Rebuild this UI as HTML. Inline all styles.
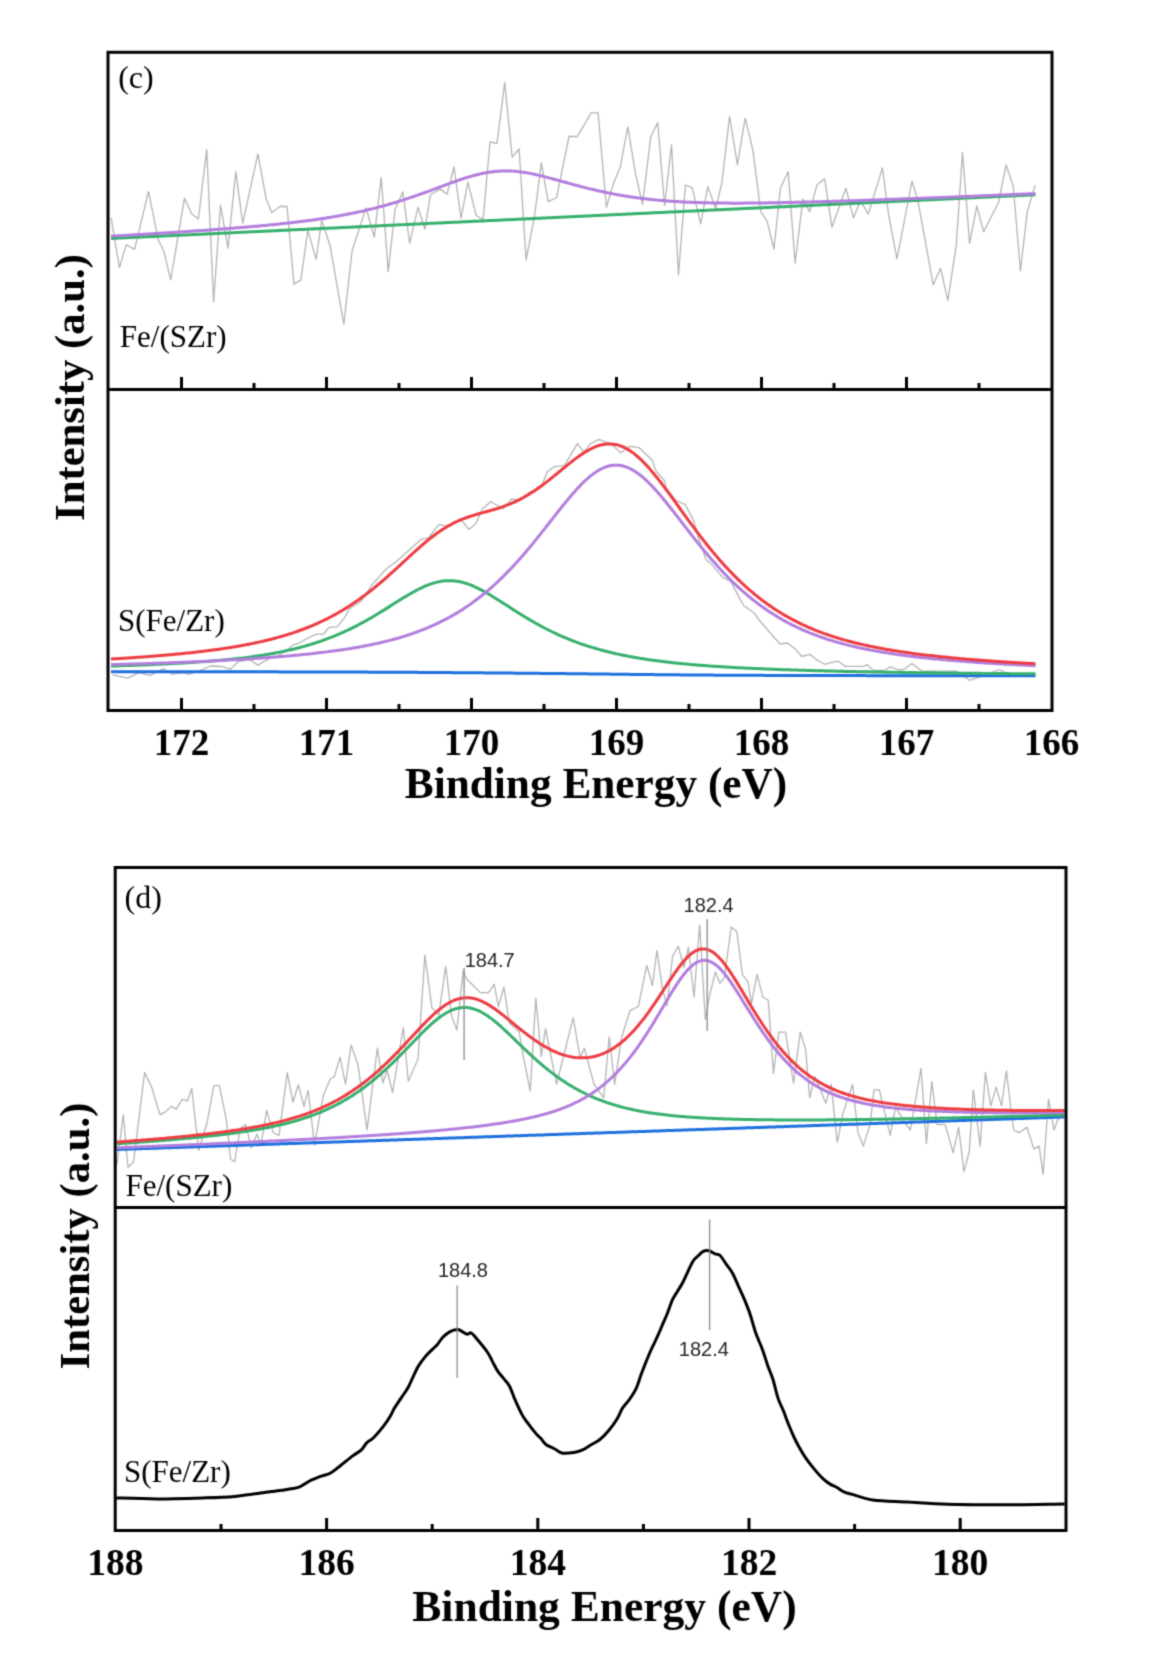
<!DOCTYPE html>
<html><head><meta charset="utf-8"><style>
html,body{margin:0;padding:0;background:#fff;}
svg{display:block;}
</style></head><body>
<svg width="1155" height="1655" viewBox="0 0 1155 1655">
<defs><filter id="soft" x="0" y="0" width="1155" height="1655" filterUnits="userSpaceOnUse" primitiveUnits="userSpaceOnUse" color-interpolation-filters="sRGB"><feConvolveMatrix order="3" kernelMatrix="1 4 1 4 16 4 1 4 1" divisor="36" edgeMode="duplicate"/></filter></defs>
<g filter="url(#soft)">
<rect width="1155" height="1655" fill="#fff"/>
<polyline points="111.1,217.6 119.4,267.5 126.3,244.7 134.6,249.4 148.5,191.3 158.2,239.8 163.7,250.8 170.7,279.9 184.5,198.2 191.4,213.4 198.4,219.0 206.7,149.7 213.6,302.0 220.5,205.1 228.0,248.1 235.8,171.9 242.7,223.1 257.9,153.9 266.3,199.6 271.8,212.6 280.1,206.5 287.0,206.5 294.0,284.1 300.9,279.9 307.8,230.1 316.1,259.1 321.7,220.4 330.0,245.3 343.8,324.2 352.1,250.8 366.0,207.9 374.3,237.0 381.2,177.4 388.2,271.6 395.1,209.3 402.8,191.9 409.7,243.2 418.0,207.2 424.9,229.3 430.5,194.7 440.2,189.1 447.1,194.1 454.0,167.0 461.0,218.2 467.9,182.2 476.2,215.5 483.1,219.6 490.0,142.0 497.0,143.4 504.7,82.5 512.2,157.3 519.1,149.0 526.1,259.8 534.4,216.9 541.3,162.8 548.2,201.6 556.6,197.5 569.0,136.5 577.3,136.5 591.2,112.9 598.1,112.9 606.4,207.2 613.4,183.6 620.3,167.0 627.8,126.8 635.5,173.9 642.5,204.4 650.8,136.5 657.7,122.6 664.6,205.8 671.5,144.8 678.5,275.0 685.4,185.0 692.3,187.8 700.6,223.8 707.8,186.6 715.6,208.5 721.8,183.5 729.6,116.5 737.4,164.8 745.2,118.1 753.0,150.8 760.8,211.6 767.0,220.9 773.9,249.0 780.4,188.2 788.2,171.7 795.1,263.0 802.9,199.1 809.7,211.6 816.9,185.1 824.7,178.8 831.9,227.2 845.9,188.2 853.4,217.8 860.5,200.7 868.3,214.1 882.4,167.9 888.6,214.7 897.0,259.0 912.0,181.0 918.2,202.2 933.2,284.8 940.6,268.3 947.8,300.4 956.2,245.9 962.5,152.3 969.6,243.4 976.8,206.0 983.7,231.8 998.6,202.2 1006.1,164.8 1013.3,186.6 1020.4,270.8 1027.3,211.6 1035.1,185.1" fill="none" stroke="#b4b4b4" stroke-width="1.3" stroke-linejoin="round"/>
<path d="M111.0,238.47 L113.0,238.38 L115.0,238.29 L117.0,238.19 L119.0,238.10 L121.0,238.00 L123.0,237.91 L125.0,237.81 L127.0,237.72 L129.0,237.62 L131.0,237.53 L133.0,237.43 L135.0,237.34 L137.0,237.25 L139.0,237.15 L141.0,237.06 L143.0,236.96 L145.0,236.87 L147.0,236.77 L149.0,236.68 L151.0,236.58 L153.0,236.49 L155.0,236.40 L157.0,236.30 L159.0,236.21 L161.0,236.11 L163.0,236.02 L165.0,235.92 L167.0,235.83 L169.0,235.73 L171.0,235.64 L173.0,235.54 L175.0,235.45 L177.0,235.36 L179.0,235.26 L181.0,235.17 L183.0,235.07 L185.0,234.98 L187.0,234.88 L189.0,234.79 L191.0,234.69 L193.0,234.60 L195.0,234.51 L197.0,234.41 L199.0,234.32 L201.0,234.22 L203.0,234.13 L205.0,234.03 L207.0,233.94 L209.0,233.84 L211.0,233.75 L213.0,233.65 L215.0,233.56 L217.0,233.47 L219.0,233.37 L221.0,233.28 L223.0,233.18 L225.0,233.09 L227.0,232.99 L229.0,232.90 L231.0,232.80 L233.0,232.71 L235.0,232.62 L237.0,232.52 L239.0,232.43 L241.0,232.33 L243.0,232.24 L245.0,232.14 L247.0,232.05 L249.0,231.95 L251.0,231.86 L253.0,231.76 L255.0,231.67 L257.0,231.58 L259.0,231.48 L261.0,231.39 L263.0,231.29 L265.0,231.20 L267.0,231.10 L269.0,231.01 L271.0,230.91 L273.0,230.82 L275.0,230.73 L277.0,230.63 L279.0,230.54 L281.0,230.44 L283.0,230.35 L285.0,230.25 L287.0,230.16 L289.0,230.06 L291.0,229.97 L293.0,229.87 L295.0,229.78 L297.0,229.69 L299.0,229.59 L301.0,229.50 L303.0,229.40 L305.0,229.31 L307.0,229.21 L309.0,229.12 L311.0,229.02 L313.0,228.93 L315.0,228.84 L317.0,228.74 L319.0,228.65 L321.0,228.55 L323.0,228.46 L325.0,228.36 L327.0,228.27 L329.0,228.17 L331.0,228.08 L333.0,227.98 L335.0,227.89 L337.0,227.80 L339.0,227.70 L341.0,227.61 L343.0,227.51 L345.0,227.42 L347.0,227.32 L349.0,227.23 L351.0,227.13 L353.0,227.04 L355.0,226.95 L357.0,226.85 L359.0,226.76 L361.0,226.66 L363.0,226.57 L365.0,226.47 L367.0,226.38 L369.0,226.28 L371.0,226.19 L373.0,226.09 L375.0,226.00 L377.0,225.91 L379.0,225.81 L381.0,225.72 L383.0,225.62 L385.0,225.53 L387.0,225.43 L389.0,225.34 L391.0,225.24 L393.0,225.15 L395.0,225.06 L397.0,224.96 L399.0,224.87 L401.0,224.77 L403.0,224.68 L405.0,224.58 L407.0,224.49 L409.0,224.39 L411.0,224.30 L413.0,224.20 L415.0,224.11 L417.0,224.02 L419.0,223.92 L421.0,223.83 L423.0,223.73 L425.0,223.64 L427.0,223.54 L429.0,223.45 L431.0,223.35 L433.0,223.26 L435.0,223.17 L437.0,223.07 L439.0,222.98 L441.0,222.88 L443.0,222.79 L445.0,222.69 L447.0,222.60 L449.0,222.50 L451.0,222.41 L453.0,222.31 L455.0,222.22 L457.0,222.13 L459.0,222.03 L461.0,221.94 L463.0,221.84 L465.0,221.75 L467.0,221.65 L469.0,221.56 L471.0,221.46 L473.0,221.37 L475.0,221.28 L477.0,221.18 L479.0,221.09 L481.0,220.99 L483.0,220.90 L485.0,220.80 L487.0,220.71 L489.0,220.61 L491.0,220.52 L493.0,220.42 L495.0,220.33 L497.0,220.24 L499.0,220.14 L501.0,220.05 L503.0,219.95 L505.0,219.86 L507.0,219.76 L509.0,219.67 L511.0,219.57 L513.0,219.48 L515.0,219.39 L517.0,219.29 L519.0,219.20 L521.0,219.10 L523.0,219.01 L525.0,218.91 L527.0,218.82 L529.0,218.72 L531.0,218.63 L533.0,218.53 L535.0,218.44 L537.0,218.35 L539.0,218.25 L541.0,218.16 L543.0,218.06 L545.0,217.97 L547.0,217.87 L549.0,217.78 L551.0,217.68 L553.0,217.59 L555.0,217.50 L557.0,217.40 L559.0,217.31 L561.0,217.21 L563.0,217.12 L565.0,217.02 L567.0,216.93 L569.0,216.83 L571.0,216.74 L573.0,216.64 L575.0,216.55 L577.0,216.46 L579.0,216.36 L581.0,216.27 L583.0,216.17 L585.0,216.08 L587.0,215.98 L589.0,215.89 L591.0,215.79 L593.0,215.70 L595.0,215.61 L597.0,215.51 L599.0,215.42 L601.0,215.32 L603.0,215.23 L605.0,215.13 L607.0,215.04 L609.0,214.94 L611.0,214.85 L613.0,214.75 L615.0,214.66 L617.0,214.57 L619.0,214.47 L621.0,214.38 L623.0,214.28 L625.0,214.19 L627.0,214.09 L629.0,214.00 L631.0,213.90 L633.0,213.81 L635.0,213.72 L637.0,213.62 L639.0,213.53 L641.0,213.43 L643.0,213.34 L645.0,213.24 L647.0,213.15 L649.0,213.05 L651.0,212.96 L653.0,212.86 L655.0,212.77 L657.0,212.68 L659.0,212.58 L661.0,212.49 L663.0,212.39 L665.0,212.30 L667.0,212.20 L669.0,212.11 L671.0,212.01 L673.0,211.92 L675.0,211.83 L677.0,211.73 L679.0,211.64 L681.0,211.54 L683.0,211.45 L685.0,211.35 L687.0,211.26 L689.0,211.16 L691.0,211.07 L693.0,210.97 L695.0,210.88 L697.0,210.79 L699.0,210.69 L701.0,210.60 L703.0,210.50 L705.0,210.41 L707.0,210.31 L709.0,210.22 L711.0,210.12 L713.0,210.03 L715.0,209.94 L717.0,209.84 L719.0,209.75 L721.0,209.65 L723.0,209.56 L725.0,209.46 L727.0,209.37 L729.0,209.27 L731.0,209.18 L733.0,209.08 L735.0,208.99 L737.0,208.90 L739.0,208.80 L741.0,208.71 L743.0,208.61 L745.0,208.52 L747.0,208.42 L749.0,208.33 L751.0,208.23 L753.0,208.14 L755.0,208.05 L757.0,207.95 L759.0,207.86 L761.0,207.76 L763.0,207.67 L765.0,207.57 L767.0,207.48 L769.0,207.38 L771.0,207.29 L773.0,207.19 L775.0,207.10 L777.0,207.01 L779.0,206.91 L781.0,206.82 L783.0,206.72 L785.0,206.63 L787.0,206.53 L789.0,206.44 L791.0,206.34 L793.0,206.25 L795.0,206.16 L797.0,206.06 L799.0,205.97 L801.0,205.87 L803.0,205.78 L805.0,205.68 L807.0,205.59 L809.0,205.49 L811.0,205.40 L813.0,205.30 L815.0,205.21 L817.0,205.12 L819.0,205.02 L821.0,204.93 L823.0,204.83 L825.0,204.74 L827.0,204.64 L829.0,204.55 L831.0,204.45 L833.0,204.36 L835.0,204.27 L837.0,204.17 L839.0,204.08 L841.0,203.98 L843.0,203.89 L845.0,203.79 L847.0,203.70 L849.0,203.60 L851.0,203.51 L853.0,203.41 L855.0,203.32 L857.0,203.23 L859.0,203.13 L861.0,203.04 L863.0,202.94 L865.0,202.85 L867.0,202.75 L869.0,202.66 L871.0,202.56 L873.0,202.47 L875.0,202.38 L877.0,202.28 L879.0,202.19 L881.0,202.09 L883.0,202.00 L885.0,201.90 L887.0,201.81 L889.0,201.71 L891.0,201.62 L893.0,201.52 L895.0,201.43 L897.0,201.34 L899.0,201.24 L901.0,201.15 L903.0,201.05 L905.0,200.96 L907.0,200.86 L909.0,200.77 L911.0,200.67 L913.0,200.58 L915.0,200.49 L917.0,200.39 L919.0,200.30 L921.0,200.20 L923.0,200.11 L925.0,200.01 L927.0,199.92 L929.0,199.82 L931.0,199.73 L933.0,199.63 L935.0,199.54 L937.0,199.45 L939.0,199.35 L941.0,199.26 L943.0,199.16 L945.0,199.07 L947.0,198.97 L949.0,198.88 L951.0,198.78 L953.0,198.69 L955.0,198.60 L957.0,198.50 L959.0,198.41 L961.0,198.31 L963.0,198.22 L965.0,198.12 L967.0,198.03 L969.0,197.93 L971.0,197.84 L973.0,197.74 L975.0,197.65 L977.0,197.56 L979.0,197.46 L981.0,197.37 L983.0,197.27 L985.0,197.18 L987.0,197.08 L989.0,196.99 L991.0,196.89 L993.0,196.80 L995.0,196.71 L997.0,196.61 L999.0,196.52 L1001.0,196.42 L1003.0,196.33 L1005.0,196.23 L1007.0,196.14 L1009.0,196.04 L1011.0,195.95 L1013.0,195.85 L1015.0,195.76 L1017.0,195.67 L1019.0,195.57 L1021.0,195.48 L1023.0,195.38 L1025.0,195.29 L1027.0,195.19 L1029.0,195.10 L1031.0,195.00 L1033.0,194.91 L1035.0,194.82 L1035.5,194.79" fill="none" stroke="#37af6e" stroke-width="3.0" stroke-linejoin="round" stroke-linecap="butt"/>
<path d="M111.0,236.22 L113.0,236.11 L115.0,235.99 L117.0,235.87 L119.0,235.76 L121.0,235.64 L123.0,235.52 L125.0,235.40 L127.0,235.28 L129.0,235.16 L131.0,235.04 L133.0,234.92 L135.0,234.80 L137.0,234.68 L139.0,234.56 L141.0,234.44 L143.0,234.32 L145.0,234.20 L147.0,234.07 L149.0,233.95 L151.0,233.83 L153.0,233.70 L155.0,233.58 L157.0,233.45 L159.0,233.33 L161.0,233.20 L163.0,233.08 L165.0,232.95 L167.0,232.82 L169.0,232.69 L171.0,232.56 L173.0,232.43 L175.0,232.30 L177.0,232.17 L179.0,232.04 L181.0,231.91 L183.0,231.78 L185.0,231.64 L187.0,231.51 L189.0,231.37 L191.0,231.24 L193.0,231.10 L195.0,230.97 L197.0,230.83 L199.0,230.69 L201.0,230.55 L203.0,230.41 L205.0,230.27 L207.0,230.13 L209.0,229.98 L211.0,229.84 L213.0,229.69 L215.0,229.55 L217.0,229.40 L219.0,229.25 L221.0,229.10 L223.0,228.95 L225.0,228.80 L227.0,228.64 L229.0,228.49 L231.0,228.33 L233.0,228.17 L235.0,228.01 L237.0,227.85 L239.0,227.69 L241.0,227.53 L243.0,227.36 L245.0,227.20 L247.0,227.03 L249.0,226.86 L251.0,226.68 L253.0,226.51 L255.0,226.33 L257.0,226.15 L259.0,225.97 L261.0,225.79 L263.0,225.60 L265.0,225.41 L267.0,225.22 L269.0,225.03 L271.0,224.84 L273.0,224.64 L275.0,224.44 L277.0,224.23 L279.0,224.02 L281.0,223.81 L283.0,223.60 L285.0,223.38 L287.0,223.16 L289.0,222.94 L291.0,222.71 L293.0,222.48 L295.0,222.25 L297.0,222.01 L299.0,221.76 L301.0,221.52 L303.0,221.26 L305.0,221.01 L307.0,220.75 L309.0,220.48 L311.0,220.21 L313.0,219.94 L315.0,219.65 L317.0,219.37 L319.0,219.08 L321.0,218.78 L323.0,218.48 L325.0,218.17 L327.0,217.85 L329.0,217.53 L331.0,217.20 L333.0,216.87 L335.0,216.53 L337.0,216.18 L339.0,215.83 L341.0,215.46 L343.0,215.10 L345.0,214.72 L347.0,214.34 L349.0,213.94 L351.0,213.54 L353.0,213.14 L355.0,212.72 L357.0,212.30 L359.0,211.87 L361.0,211.43 L363.0,210.98 L365.0,210.52 L367.0,210.05 L369.0,209.58 L371.0,209.09 L373.0,208.60 L375.0,208.10 L377.0,207.58 L379.0,207.06 L381.0,206.53 L383.0,205.99 L385.0,205.44 L387.0,204.88 L389.0,204.31 L391.0,203.73 L393.0,203.14 L395.0,202.54 L397.0,201.94 L399.0,201.32 L401.0,200.69 L403.0,200.06 L405.0,199.41 L407.0,198.76 L409.0,198.10 L411.0,197.43 L413.0,196.75 L415.0,196.06 L417.0,195.37 L419.0,194.67 L421.0,193.96 L423.0,193.24 L425.0,192.52 L427.0,191.80 L429.0,191.07 L431.0,190.33 L433.0,189.59 L435.0,188.85 L437.0,188.11 L439.0,187.37 L441.0,186.62 L443.0,185.88 L445.0,185.14 L447.0,184.41 L449.0,183.67 L451.0,182.95 L453.0,182.23 L455.0,181.52 L457.0,180.82 L459.0,180.13 L461.0,179.45 L463.0,178.79 L465.0,178.15 L467.0,177.52 L469.0,176.91 L471.0,176.33 L473.0,175.76 L475.0,175.22 L477.0,174.71 L479.0,174.22 L481.0,173.77 L483.0,173.34 L485.0,172.95 L487.0,172.58 L489.0,172.26 L491.0,171.96 L493.0,171.71 L495.0,171.49 L497.0,171.30 L499.0,171.16 L501.0,171.05 L503.0,170.98 L505.0,170.95 L507.0,170.95 L509.0,170.99 L511.0,171.07 L513.0,171.19 L515.0,171.33 L517.0,171.52 L519.0,171.73 L521.0,171.98 L523.0,172.26 L525.0,172.56 L527.0,172.89 L529.0,173.25 L531.0,173.63 L533.0,174.04 L535.0,174.46 L537.0,174.90 L539.0,175.36 L541.0,175.84 L543.0,176.33 L545.0,176.84 L547.0,177.35 L549.0,177.87 L551.0,178.41 L553.0,178.94 L555.0,179.49 L557.0,180.04 L559.0,180.59 L561.0,181.14 L563.0,181.70 L565.0,182.25 L567.0,182.80 L569.0,183.35 L571.0,183.90 L573.0,184.45 L575.0,184.99 L577.0,185.52 L579.0,186.05 L581.0,186.58 L583.0,187.09 L585.0,187.60 L587.0,188.11 L589.0,188.60 L591.0,189.09 L593.0,189.57 L595.0,190.04 L597.0,190.50 L599.0,190.95 L601.0,191.40 L603.0,191.83 L605.0,192.26 L607.0,192.67 L609.0,193.08 L611.0,193.48 L613.0,193.86 L615.0,194.24 L617.0,194.61 L619.0,194.97 L621.0,195.32 L623.0,195.66 L625.0,195.99 L627.0,196.31 L629.0,196.62 L631.0,196.92 L633.0,197.21 L635.0,197.50 L637.0,197.77 L639.0,198.04 L641.0,198.30 L643.0,198.55 L645.0,198.79 L647.0,199.02 L649.0,199.24 L651.0,199.46 L653.0,199.67 L655.0,199.87 L657.0,200.06 L659.0,200.24 L661.0,200.42 L663.0,200.59 L665.0,200.76 L667.0,200.91 L669.0,201.06 L671.0,201.21 L673.0,201.34 L675.0,201.47 L677.0,201.60 L679.0,201.72 L681.0,201.83 L683.0,201.93 L685.0,202.04 L687.0,202.13 L689.0,202.22 L691.0,202.31 L693.0,202.39 L695.0,202.46 L697.0,202.53 L699.0,202.60 L701.0,202.66 L703.0,202.72 L705.0,202.77 L707.0,202.82 L709.0,202.87 L711.0,202.91 L713.0,202.94 L715.0,202.98 L717.0,203.01 L719.0,203.03 L721.0,203.06 L723.0,203.08 L725.0,203.10 L727.0,203.11 L729.0,203.12 L731.0,203.13 L733.0,203.14 L735.0,203.14 L737.0,203.14 L739.0,203.14 L741.0,203.13 L743.0,203.13 L745.0,203.12 L747.0,203.11 L749.0,203.10 L751.0,203.08 L753.0,203.06 L755.0,203.05 L757.0,203.02 L759.0,203.00 L761.0,202.98 L763.0,202.95 L765.0,202.93 L767.0,202.90 L769.0,202.87 L771.0,202.83 L773.0,202.80 L775.0,202.77 L777.0,202.73 L779.0,202.69 L781.0,202.66 L783.0,202.62 L785.0,202.58 L787.0,202.53 L789.0,202.49 L791.0,202.45 L793.0,202.40 L795.0,202.36 L797.0,202.31 L799.0,202.26 L801.0,202.21 L803.0,202.16 L805.0,202.11 L807.0,202.06 L809.0,202.01 L811.0,201.96 L813.0,201.90 L815.0,201.85 L817.0,201.79 L819.0,201.74 L821.0,201.68 L823.0,201.62 L825.0,201.57 L827.0,201.51 L829.0,201.45 L831.0,201.39 L833.0,201.33 L835.0,201.27 L837.0,201.21 L839.0,201.14 L841.0,201.08 L843.0,201.02 L845.0,200.95 L847.0,200.89 L849.0,200.83 L851.0,200.76 L853.0,200.70 L855.0,200.63 L857.0,200.56 L859.0,200.50 L861.0,200.43 L863.0,200.36 L865.0,200.29 L867.0,200.22 L869.0,200.16 L871.0,200.09 L873.0,200.02 L875.0,199.95 L877.0,199.88 L879.0,199.81 L881.0,199.73 L883.0,199.66 L885.0,199.59 L887.0,199.52 L889.0,199.45 L891.0,199.37 L893.0,199.30 L895.0,199.23 L897.0,199.15 L899.0,199.08 L901.0,199.01 L903.0,198.93 L905.0,198.86 L907.0,198.78 L909.0,198.71 L911.0,198.63 L913.0,198.56 L915.0,198.48 L917.0,198.40 L919.0,198.33 L921.0,198.25 L923.0,198.17 L925.0,198.10 L927.0,198.02 L929.0,197.94 L931.0,197.86 L933.0,197.78 L935.0,197.71 L937.0,197.63 L939.0,197.55 L941.0,197.47 L943.0,197.39 L945.0,197.31 L947.0,197.23 L949.0,197.15 L951.0,197.07 L953.0,196.99 L955.0,196.91 L957.0,196.83 L959.0,196.75 L961.0,196.67 L963.0,196.59 L965.0,196.51 L967.0,196.43 L969.0,196.35 L971.0,196.26 L973.0,196.18 L975.0,196.10 L977.0,196.02 L979.0,195.94 L981.0,195.85 L983.0,195.77 L985.0,195.69 L987.0,195.61 L989.0,195.52 L991.0,195.44 L993.0,195.36 L995.0,195.27 L997.0,195.19 L999.0,195.11 L1001.0,195.02 L1003.0,194.94 L1005.0,194.86 L1007.0,194.77 L1009.0,194.69 L1011.0,194.60 L1013.0,194.52 L1015.0,194.43 L1017.0,194.35 L1019.0,194.26 L1021.0,194.18 L1023.0,194.10 L1025.0,194.01 L1027.0,193.92 L1029.0,193.84 L1031.0,193.75 L1033.0,193.67 L1035.0,193.58 L1035.5,193.56" fill="none" stroke="#b27ede" stroke-width="3.0" stroke-linejoin="round" stroke-linecap="butt"/>
<polyline points="112.5,674.8 127.7,678.1 138.8,672.6 149.9,675.4 163.7,668.7 172.0,674.3 183.1,672.6 188.7,674.3 199.8,670.7 210.8,666.0 221.9,666.5 230.2,669.3 238.5,661.5 249.6,659.6 257.9,665.1 269.0,658.7 280.1,654.9 288.7,648.5 293.9,644.6 299.0,643.3 306.0,639.0 316.4,634.2 323.3,634.2 329.4,627.3 337.1,626.8 344.9,617.3 349.3,608.7 357.9,603.5 362.3,600.0 371.0,586.0 385.5,569.6 396.6,561.3 421.6,539.1 428.5,537.8 438.7,524.7 449.3,526.7 460.4,518.4 468.7,529.4 475.6,523.9 482.5,508.7 490.8,501.7 503.3,508.7 511.6,499.0 519.9,500.4 529.6,492.0 540.7,487.9 547.6,471.3 554.6,466.6 564.3,465.7 577.3,443.6 583.7,451.9 590.6,443.6 598.9,439.4 610.0,443.6 621.1,452.7 629.4,446.3 639.1,447.7 652.1,460.0 656.2,471.4 664.5,480.8 666.6,489.1 676.0,500.5 685.3,504.7 693.6,520.3 698.8,539.0 706.1,559.7 710.3,562.9 722.7,577.4 731.0,581.6 735.2,589.9 743.5,605.5 753.9,612.7 759.1,620.0 780.0,644.0 787.3,643.0 795.6,649.2 801.8,656.5 810.1,654.4 816.4,659.6 824.7,664.3 830.9,662.7 838.2,661.2 845.5,666.4 863.1,666.4 867.3,664.8 873.5,670.5 884.9,670.5 890.1,666.9 900.0,670.0 903.8,669.5 912.0,663.5 921.9,671.1 943.2,671.1 956.4,671.1 969.6,680.3 982.7,676.0 999.2,669.5 1009.1,674.4 1035.4,674.4" fill="none" stroke="#b4b4b4" stroke-width="1.3" stroke-linejoin="round"/>
<path d="M111.0,671.70 L113.0,671.70 L115.0,671.70 L117.0,671.70 L119.0,671.70 L121.0,671.70 L123.0,671.70 L125.0,671.71 L127.0,671.71 L129.0,671.71 L131.0,671.71 L133.0,671.71 L135.0,671.71 L137.0,671.71 L139.0,671.72 L141.0,671.72 L143.0,671.72 L145.0,671.72 L147.0,671.72 L149.0,671.72 L151.0,671.73 L153.0,671.73 L155.0,671.73 L157.0,671.73 L159.0,671.73 L161.0,671.73 L163.0,671.74 L165.0,671.74 L167.0,671.74 L169.0,671.74 L171.0,671.74 L173.0,671.74 L175.0,671.75 L177.0,671.75 L179.0,671.75 L181.0,671.75 L183.0,671.75 L185.0,671.75 L187.0,671.76 L189.0,671.76 L191.0,671.76 L193.0,671.76 L195.0,671.76 L197.0,671.77 L199.0,671.77 L201.0,671.77 L203.0,671.77 L205.0,671.77 L207.0,671.78 L209.0,671.78 L211.0,671.78 L213.0,671.78 L215.0,671.79 L217.0,671.79 L219.0,671.79 L221.0,671.79 L223.0,671.80 L225.0,671.80 L227.0,671.80 L229.0,671.80 L231.0,671.80 L233.0,671.81 L235.0,671.81 L237.0,671.81 L239.0,671.82 L241.0,671.82 L243.0,671.82 L245.0,671.82 L247.0,671.83 L249.0,671.83 L251.0,671.83 L253.0,671.83 L255.0,671.84 L257.0,671.84 L259.0,671.84 L261.0,671.85 L263.0,671.85 L265.0,671.85 L267.0,671.86 L269.0,671.86 L271.0,671.86 L273.0,671.87 L275.0,671.87 L277.0,671.87 L279.0,671.88 L281.0,671.88 L283.0,671.88 L285.0,671.89 L287.0,671.89 L289.0,671.90 L291.0,671.90 L293.0,671.90 L295.0,671.91 L297.0,671.91 L299.0,671.92 L301.0,671.92 L303.0,671.92 L305.0,671.93 L307.0,671.93 L309.0,671.94 L311.0,671.94 L313.0,671.95 L315.0,671.95 L317.0,671.96 L319.0,671.96 L321.0,671.97 L323.0,671.97 L325.0,671.98 L327.0,671.98 L329.0,671.99 L331.0,671.99 L333.0,672.00 L335.0,672.01 L337.0,672.01 L339.0,672.02 L341.0,672.02 L343.0,672.03 L345.0,672.04 L347.0,672.04 L349.0,672.05 L351.0,672.06 L353.0,672.06 L355.0,672.07 L357.0,672.08 L359.0,672.09 L361.0,672.09 L363.0,672.10 L365.0,672.11 L367.0,672.12 L369.0,672.13 L371.0,672.13 L373.0,672.14 L375.0,672.15 L377.0,672.16 L379.0,672.17 L381.0,672.18 L383.0,672.19 L385.0,672.20 L387.0,672.21 L389.0,672.22 L391.0,672.23 L393.0,672.24 L395.0,672.25 L397.0,672.26 L399.0,672.27 L401.0,672.28 L403.0,672.29 L405.0,672.30 L407.0,672.31 L409.0,672.33 L411.0,672.34 L413.0,672.35 L415.0,672.36 L417.0,672.37 L419.0,672.39 L421.0,672.40 L423.0,672.41 L425.0,672.43 L427.0,672.44 L429.0,672.45 L431.0,672.47 L433.0,672.48 L435.0,672.49 L437.0,672.51 L439.0,672.52 L441.0,672.54 L443.0,672.55 L445.0,672.57 L447.0,672.58 L449.0,672.60 L451.0,672.61 L453.0,672.63 L455.0,672.64 L457.0,672.66 L459.0,672.67 L461.0,672.69 L463.0,672.71 L465.0,672.72 L467.0,672.74 L469.0,672.75 L471.0,672.77 L473.0,672.79 L475.0,672.80 L477.0,672.82 L479.0,672.83 L481.0,672.85 L483.0,672.87 L485.0,672.88 L487.0,672.90 L489.0,672.92 L491.0,672.93 L493.0,672.95 L495.0,672.97 L497.0,672.98 L499.0,673.00 L501.0,673.02 L503.0,673.04 L505.0,673.05 L507.0,673.07 L509.0,673.09 L511.0,673.10 L513.0,673.12 L515.0,673.14 L517.0,673.16 L519.0,673.18 L521.0,673.19 L523.0,673.21 L525.0,673.23 L527.0,673.25 L529.0,673.27 L531.0,673.28 L533.0,673.30 L535.0,673.32 L537.0,673.34 L539.0,673.36 L541.0,673.38 L543.0,673.40 L545.0,673.42 L547.0,673.44 L549.0,673.46 L551.0,673.48 L553.0,673.50 L555.0,673.52 L557.0,673.54 L559.0,673.56 L561.0,673.58 L563.0,673.60 L565.0,673.62 L567.0,673.64 L569.0,673.66 L571.0,673.69 L573.0,673.71 L575.0,673.73 L577.0,673.75 L579.0,673.77 L581.0,673.80 L583.0,673.82 L585.0,673.84 L587.0,673.87 L589.0,673.89 L591.0,673.91 L593.0,673.93 L595.0,673.96 L597.0,673.98 L599.0,674.00 L601.0,674.03 L603.0,674.05 L605.0,674.08 L607.0,674.10 L609.0,674.12 L611.0,674.15 L613.0,674.17 L615.0,674.19 L617.0,674.22 L619.0,674.24 L621.0,674.26 L623.0,674.29 L625.0,674.31 L627.0,674.33 L629.0,674.36 L631.0,674.38 L633.0,674.40 L635.0,674.43 L637.0,674.45 L639.0,674.47 L641.0,674.49 L643.0,674.52 L645.0,674.54 L647.0,674.56 L649.0,674.58 L651.0,674.60 L653.0,674.62 L655.0,674.64 L657.0,674.66 L659.0,674.68 L661.0,674.70 L663.0,674.72 L665.0,674.74 L667.0,674.76 L669.0,674.78 L671.0,674.80 L673.0,674.82 L675.0,674.83 L677.0,674.85 L679.0,674.87 L681.0,674.89 L683.0,674.90 L685.0,674.92 L687.0,674.94 L689.0,674.95 L691.0,674.97 L693.0,674.98 L695.0,675.00 L697.0,675.01 L699.0,675.03 L701.0,675.04 L703.0,675.06 L705.0,675.07 L707.0,675.08 L709.0,675.10 L711.0,675.11 L713.0,675.12 L715.0,675.14 L717.0,675.15 L719.0,675.16 L721.0,675.17 L723.0,675.18 L725.0,675.19 L727.0,675.21 L729.0,675.22 L731.0,675.23 L733.0,675.24 L735.0,675.25 L737.0,675.26 L739.0,675.27 L741.0,675.28 L743.0,675.29 L745.0,675.30 L747.0,675.31 L749.0,675.31 L751.0,675.32 L753.0,675.33 L755.0,675.34 L757.0,675.35 L759.0,675.36 L761.0,675.36 L763.0,675.37 L765.0,675.38 L767.0,675.39 L769.0,675.39 L771.0,675.40 L773.0,675.41 L775.0,675.42 L777.0,675.42 L779.0,675.43 L781.0,675.43 L783.0,675.44 L785.0,675.45 L787.0,675.45 L789.0,675.46 L791.0,675.47 L793.0,675.47 L795.0,675.48 L797.0,675.48 L799.0,675.49 L801.0,675.49 L803.0,675.50 L805.0,675.50 L807.0,675.51 L809.0,675.51 L811.0,675.52 L813.0,675.52 L815.0,675.53 L817.0,675.53 L819.0,675.54 L821.0,675.54 L823.0,675.55 L825.0,675.55 L827.0,675.55 L829.0,675.56 L831.0,675.56 L833.0,675.57 L835.0,675.57 L837.0,675.58 L839.0,675.58 L841.0,675.58 L843.0,675.59 L845.0,675.59 L847.0,675.59 L849.0,675.60 L851.0,675.60 L853.0,675.60 L855.0,675.61 L857.0,675.61 L859.0,675.61 L861.0,675.62 L863.0,675.62 L865.0,675.62 L867.0,675.63 L869.0,675.63 L871.0,675.63 L873.0,675.64 L875.0,675.64 L877.0,675.64 L879.0,675.64 L881.0,675.65 L883.0,675.65 L885.0,675.65 L887.0,675.66 L889.0,675.66 L891.0,675.66 L893.0,675.66 L895.0,675.67 L897.0,675.67 L899.0,675.67 L901.0,675.67 L903.0,675.68 L905.0,675.68 L907.0,675.68 L909.0,675.68 L911.0,675.69 L913.0,675.69 L915.0,675.69 L917.0,675.69 L919.0,675.70 L921.0,675.70 L923.0,675.70 L925.0,675.70 L927.0,675.70 L929.0,675.71 L931.0,675.71 L933.0,675.71 L935.0,675.71 L937.0,675.71 L939.0,675.72 L941.0,675.72 L943.0,675.72 L945.0,675.72 L947.0,675.72 L949.0,675.73 L951.0,675.73 L953.0,675.73 L955.0,675.73 L957.0,675.73 L959.0,675.73 L961.0,675.74 L963.0,675.74 L965.0,675.74 L967.0,675.74 L969.0,675.74 L971.0,675.75 L973.0,675.75 L975.0,675.75 L977.0,675.75 L979.0,675.75 L981.0,675.75 L983.0,675.75 L985.0,675.76 L987.0,675.76 L989.0,675.76 L991.0,675.76 L993.0,675.76 L995.0,675.76 L997.0,675.77 L999.0,675.77 L1001.0,675.77 L1003.0,675.77 L1005.0,675.77 L1007.0,675.77 L1009.0,675.77 L1011.0,675.78 L1013.0,675.78 L1015.0,675.78 L1017.0,675.78 L1019.0,675.78 L1021.0,675.78 L1023.0,675.78 L1025.0,675.79 L1027.0,675.79 L1029.0,675.79 L1031.0,675.79 L1033.0,675.79 L1035.0,675.79 L1035.5,675.79" fill="none" stroke="#1e70de" stroke-width="3.0" stroke-linejoin="round" stroke-linecap="butt"/>
<path d="M111.0,666.07 L113.0,666.01 L115.0,665.95 L117.0,665.88 L119.0,665.82 L121.0,665.75 L123.0,665.69 L125.0,665.62 L127.0,665.55 L129.0,665.48 L131.0,665.41 L133.0,665.34 L135.0,665.26 L137.0,665.19 L139.0,665.11 L141.0,665.04 L143.0,664.96 L145.0,664.88 L147.0,664.79 L149.0,664.71 L151.0,664.63 L153.0,664.54 L155.0,664.45 L157.0,664.36 L159.0,664.27 L161.0,664.18 L163.0,664.08 L165.0,663.98 L167.0,663.88 L169.0,663.78 L171.0,663.68 L173.0,663.57 L175.0,663.47 L177.0,663.36 L179.0,663.24 L181.0,663.13 L183.0,663.01 L185.0,662.89 L187.0,662.77 L189.0,662.65 L191.0,662.52 L193.0,662.39 L195.0,662.26 L197.0,662.12 L199.0,661.98 L201.0,661.84 L203.0,661.69 L205.0,661.54 L207.0,661.39 L209.0,661.23 L211.0,661.07 L213.0,660.91 L215.0,660.74 L217.0,660.57 L219.0,660.39 L221.0,660.21 L223.0,660.03 L225.0,659.84 L227.0,659.64 L229.0,659.44 L231.0,659.24 L233.0,659.03 L235.0,658.81 L237.0,658.59 L239.0,658.36 L241.0,658.13 L243.0,657.89 L245.0,657.64 L247.0,657.39 L249.0,657.13 L251.0,656.87 L253.0,656.59 L255.0,656.31 L257.0,656.02 L259.0,655.72 L261.0,655.42 L263.0,655.11 L265.0,654.78 L267.0,654.45 L269.0,654.11 L271.0,653.76 L273.0,653.40 L275.0,653.03 L277.0,652.65 L279.0,652.26 L281.0,651.86 L283.0,651.45 L285.0,651.02 L287.0,650.59 L289.0,650.14 L291.0,649.68 L293.0,649.20 L295.0,648.72 L297.0,648.22 L299.0,647.71 L301.0,647.18 L303.0,646.64 L305.0,646.08 L307.0,645.51 L309.0,644.92 L311.0,644.32 L313.0,643.70 L315.0,643.07 L317.0,642.42 L319.0,641.75 L321.0,641.07 L323.0,640.36 L325.0,639.64 L327.0,638.91 L329.0,638.15 L331.0,637.38 L333.0,636.58 L335.0,635.77 L337.0,634.94 L339.0,634.09 L341.0,633.22 L343.0,632.33 L345.0,631.42 L347.0,630.49 L349.0,629.54 L351.0,628.57 L353.0,627.59 L355.0,626.58 L357.0,625.55 L359.0,624.51 L361.0,623.44 L363.0,622.36 L365.0,621.25 L367.0,620.13 L369.0,618.99 L371.0,617.84 L373.0,616.67 L375.0,615.49 L377.0,614.29 L379.0,613.07 L381.0,611.85 L383.0,610.61 L385.0,609.37 L387.0,608.12 L389.0,606.86 L391.0,605.60 L393.0,604.34 L395.0,603.08 L397.0,601.82 L399.0,600.57 L401.0,599.32 L403.0,598.09 L405.0,596.87 L407.0,595.67 L409.0,594.49 L411.0,593.33 L413.0,592.20 L415.0,591.10 L417.0,590.04 L419.0,589.02 L421.0,588.04 L423.0,587.10 L425.0,586.22 L427.0,585.38 L429.0,584.61 L431.0,583.90 L433.0,583.25 L435.0,582.67 L437.0,582.15 L439.0,581.71 L441.0,581.35 L443.0,581.06 L445.0,580.85 L447.0,580.71 L449.0,580.66 L451.0,580.69 L453.0,580.80 L455.0,580.98 L457.0,581.25 L459.0,581.59 L461.0,582.01 L463.0,582.51 L465.0,583.07 L467.0,583.70 L469.0,584.40 L471.0,585.17 L473.0,585.99 L475.0,586.87 L477.0,587.80 L479.0,588.78 L481.0,589.80 L483.0,590.87 L485.0,591.97 L487.0,593.11 L489.0,594.27 L491.0,595.47 L493.0,596.68 L495.0,597.92 L497.0,599.17 L499.0,600.44 L501.0,601.71 L503.0,602.99 L505.0,604.28 L507.0,605.57 L509.0,606.86 L511.0,608.15 L513.0,609.43 L515.0,610.71 L517.0,611.97 L519.0,613.23 L521.0,614.48 L523.0,615.72 L525.0,616.94 L527.0,618.14 L529.0,619.34 L531.0,620.51 L533.0,621.67 L535.0,622.81 L537.0,623.94 L539.0,625.04 L541.0,626.13 L543.0,627.20 L545.0,628.24 L547.0,629.27 L549.0,630.28 L551.0,631.27 L553.0,632.24 L555.0,633.19 L557.0,634.12 L559.0,635.03 L561.0,635.92 L563.0,636.79 L565.0,637.64 L567.0,638.48 L569.0,639.29 L571.0,640.09 L573.0,640.86 L575.0,641.62 L577.0,642.36 L579.0,643.09 L581.0,643.80 L583.0,644.49 L585.0,645.16 L587.0,645.82 L589.0,646.46 L591.0,647.08 L593.0,647.69 L595.0,648.28 L597.0,648.86 L599.0,649.43 L601.0,649.98 L603.0,650.52 L605.0,651.04 L607.0,651.55 L609.0,652.05 L611.0,652.53 L613.0,653.00 L615.0,653.46 L617.0,653.91 L619.0,654.35 L621.0,654.77 L623.0,655.19 L625.0,655.59 L627.0,655.98 L629.0,656.37 L631.0,656.74 L633.0,657.10 L635.0,657.46 L637.0,657.80 L639.0,658.14 L641.0,658.47 L643.0,658.79 L645.0,659.10 L647.0,659.40 L649.0,659.70 L651.0,659.99 L653.0,660.27 L655.0,660.54 L657.0,660.81 L659.0,661.07 L661.0,661.32 L663.0,661.57 L665.0,661.81 L667.0,662.05 L669.0,662.28 L671.0,662.50 L673.0,662.72 L675.0,662.93 L677.0,663.14 L679.0,663.35 L681.0,663.55 L683.0,663.74 L685.0,663.93 L687.0,664.11 L689.0,664.29 L691.0,664.47 L693.0,664.64 L695.0,664.81 L697.0,664.98 L699.0,665.14 L701.0,665.30 L703.0,665.45 L705.0,665.60 L707.0,665.75 L709.0,665.90 L711.0,666.04 L713.0,666.18 L715.0,666.31 L717.0,666.44 L719.0,666.57 L721.0,666.70 L723.0,666.83 L725.0,666.95 L727.0,667.07 L729.0,667.19 L731.0,667.30 L733.0,667.41 L735.0,667.52 L737.0,667.63 L739.0,667.74 L741.0,667.84 L743.0,667.95 L745.0,668.05 L747.0,668.14 L749.0,668.24 L751.0,668.34 L753.0,668.43 L755.0,668.52 L757.0,668.61 L759.0,668.70 L761.0,668.79 L763.0,668.87 L765.0,668.95 L767.0,669.04 L769.0,669.12 L771.0,669.20 L773.0,669.27 L775.0,669.35 L777.0,669.43 L779.0,669.50 L781.0,669.57 L783.0,669.64 L785.0,669.72 L787.0,669.78 L789.0,669.85 L791.0,669.92 L793.0,669.99 L795.0,670.05 L797.0,670.11 L799.0,670.18 L801.0,670.24 L803.0,670.30 L805.0,670.36 L807.0,670.42 L809.0,670.48 L811.0,670.53 L813.0,670.59 L815.0,670.64 L817.0,670.70 L819.0,670.75 L821.0,670.81 L823.0,670.86 L825.0,670.91 L827.0,670.96 L829.0,671.01 L831.0,671.06 L833.0,671.11 L835.0,671.15 L837.0,671.20 L839.0,671.25 L841.0,671.29 L843.0,671.34 L845.0,671.38 L847.0,671.43 L849.0,671.47 L851.0,671.51 L853.0,671.55 L855.0,671.59 L857.0,671.63 L859.0,671.67 L861.0,671.71 L863.0,671.75 L865.0,671.79 L867.0,671.83 L869.0,671.87 L871.0,671.90 L873.0,671.94 L875.0,671.98 L877.0,672.01 L879.0,672.05 L881.0,672.08 L883.0,672.12 L885.0,672.15 L887.0,672.18 L889.0,672.22 L891.0,672.25 L893.0,672.28 L895.0,672.31 L897.0,672.34 L899.0,672.37 L901.0,672.40 L903.0,672.43 L905.0,672.46 L907.0,672.49 L909.0,672.52 L911.0,672.55 L913.0,672.58 L915.0,672.61 L917.0,672.63 L919.0,672.66 L921.0,672.69 L923.0,672.72 L925.0,672.74 L927.0,672.77 L929.0,672.79 L931.0,672.82 L933.0,672.84 L935.0,672.87 L937.0,672.89 L939.0,672.92 L941.0,672.94 L943.0,672.96 L945.0,672.99 L947.0,673.01 L949.0,673.03 L951.0,673.06 L953.0,673.08 L955.0,673.10 L957.0,673.12 L959.0,673.14 L961.0,673.17 L963.0,673.19 L965.0,673.21 L967.0,673.23 L969.0,673.25 L971.0,673.27 L973.0,673.29 L975.0,673.31 L977.0,673.33 L979.0,673.35 L981.0,673.37 L983.0,673.39 L985.0,673.40 L987.0,673.42 L989.0,673.44 L991.0,673.46 L993.0,673.48 L995.0,673.50 L997.0,673.51 L999.0,673.53 L1001.0,673.55 L1003.0,673.56 L1005.0,673.58 L1007.0,673.60 L1009.0,673.61 L1011.0,673.63 L1013.0,673.65 L1015.0,673.66 L1017.0,673.68 L1019.0,673.69 L1021.0,673.71 L1023.0,673.73 L1025.0,673.74 L1027.0,673.76 L1029.0,673.77 L1031.0,673.79 L1033.0,673.80 L1035.0,673.81 L1035.5,673.82" fill="none" stroke="#37af6e" stroke-width="3.0" stroke-linejoin="round" stroke-linecap="butt"/>
<path d="M111.0,664.61 L113.0,664.56 L115.0,664.51 L117.0,664.45 L119.0,664.40 L121.0,664.34 L123.0,664.29 L125.0,664.23 L127.0,664.17 L129.0,664.12 L131.0,664.06 L133.0,664.00 L135.0,663.94 L137.0,663.88 L139.0,663.82 L141.0,663.76 L143.0,663.69 L145.0,663.63 L147.0,663.57 L149.0,663.50 L151.0,663.43 L153.0,663.37 L155.0,663.30 L157.0,663.23 L159.0,663.16 L161.0,663.09 L163.0,663.02 L165.0,662.95 L167.0,662.88 L169.0,662.80 L171.0,662.73 L173.0,662.65 L175.0,662.58 L177.0,662.50 L179.0,662.42 L181.0,662.34 L183.0,662.26 L185.0,662.18 L187.0,662.10 L189.0,662.02 L191.0,661.93 L193.0,661.85 L195.0,661.76 L197.0,661.67 L199.0,661.58 L201.0,661.49 L203.0,661.40 L205.0,661.31 L207.0,661.21 L209.0,661.12 L211.0,661.02 L213.0,660.92 L215.0,660.82 L217.0,660.72 L219.0,660.62 L221.0,660.52 L223.0,660.41 L225.0,660.30 L227.0,660.20 L229.0,660.09 L231.0,659.97 L233.0,659.86 L235.0,659.75 L237.0,659.63 L239.0,659.51 L241.0,659.39 L243.0,659.27 L245.0,659.15 L247.0,659.02 L249.0,658.90 L251.0,658.77 L253.0,658.64 L255.0,658.50 L257.0,658.37 L259.0,658.23 L261.0,658.09 L263.0,657.95 L265.0,657.81 L267.0,657.66 L269.0,657.51 L271.0,657.36 L273.0,657.21 L275.0,657.05 L277.0,656.89 L279.0,656.73 L281.0,656.57 L283.0,656.40 L285.0,656.23 L287.0,656.06 L289.0,655.89 L291.0,655.71 L293.0,655.53 L295.0,655.34 L297.0,655.15 L299.0,654.96 L301.0,654.77 L303.0,654.57 L305.0,654.37 L307.0,654.16 L309.0,653.95 L311.0,653.74 L313.0,653.52 L315.0,653.30 L317.0,653.07 L319.0,652.84 L321.0,652.60 L323.0,652.36 L325.0,652.12 L327.0,651.87 L329.0,651.61 L331.0,651.35 L333.0,651.08 L335.0,650.81 L337.0,650.54 L339.0,650.25 L341.0,649.96 L343.0,649.67 L345.0,649.36 L347.0,649.05 L349.0,648.74 L351.0,648.42 L353.0,648.09 L355.0,647.75 L357.0,647.40 L359.0,647.05 L361.0,646.69 L363.0,646.32 L365.0,645.94 L367.0,645.55 L369.0,645.15 L371.0,644.74 L373.0,644.33 L375.0,643.90 L377.0,643.46 L379.0,643.01 L381.0,642.55 L383.0,642.08 L385.0,641.60 L387.0,641.10 L389.0,640.60 L391.0,640.08 L393.0,639.54 L395.0,639.00 L397.0,638.44 L399.0,637.86 L401.0,637.27 L403.0,636.66 L405.0,636.04 L407.0,635.41 L409.0,634.75 L411.0,634.08 L413.0,633.40 L415.0,632.69 L417.0,631.97 L419.0,631.22 L421.0,630.46 L423.0,629.68 L425.0,628.88 L427.0,628.06 L429.0,627.22 L431.0,626.35 L433.0,625.46 L435.0,624.55 L437.0,623.62 L439.0,622.66 L441.0,621.68 L443.0,620.68 L445.0,619.65 L447.0,618.59 L449.0,617.51 L451.0,616.40 L453.0,615.26 L455.0,614.10 L457.0,612.91 L459.0,611.68 L461.0,610.43 L463.0,609.15 L465.0,607.84 L467.0,606.50 L469.0,605.13 L471.0,603.72 L473.0,602.28 L475.0,600.81 L477.0,599.31 L479.0,597.78 L481.0,596.21 L483.0,594.61 L485.0,592.97 L487.0,591.30 L489.0,589.59 L491.0,587.85 L493.0,586.07 L495.0,584.26 L497.0,582.41 L499.0,580.53 L501.0,578.61 L503.0,576.65 L505.0,574.67 L507.0,572.64 L509.0,570.58 L511.0,568.49 L513.0,566.36 L515.0,564.20 L517.0,562.00 L519.0,559.77 L521.0,557.51 L523.0,555.22 L525.0,552.90 L527.0,550.55 L529.0,548.17 L531.0,545.77 L533.0,543.34 L535.0,540.88 L537.0,538.41 L539.0,535.92 L541.0,533.41 L543.0,530.88 L545.0,528.35 L547.0,525.80 L549.0,523.25 L551.0,520.69 L553.0,518.14 L555.0,515.59 L557.0,513.04 L559.0,510.51 L561.0,507.99 L563.0,505.50 L565.0,503.03 L567.0,500.58 L569.0,498.18 L571.0,495.81 L573.0,493.49 L575.0,491.23 L577.0,489.01 L579.0,486.87 L581.0,484.79 L583.0,482.78 L585.0,480.86 L587.0,479.02 L589.0,477.27 L591.0,475.62 L593.0,474.07 L595.0,472.64 L597.0,471.31 L599.0,470.10 L601.0,469.02 L603.0,468.06 L605.0,467.23 L607.0,466.54 L609.0,465.98 L611.0,465.56 L613.0,465.28 L615.0,465.14 L617.0,465.15 L619.0,465.29 L621.0,465.58 L623.0,466.01 L625.0,466.57 L627.0,467.27 L629.0,468.11 L631.0,469.08 L633.0,470.17 L635.0,471.39 L637.0,472.73 L639.0,474.18 L641.0,475.74 L643.0,477.41 L645.0,479.17 L647.0,481.03 L649.0,482.97 L651.0,485.00 L653.0,487.10 L655.0,489.28 L657.0,491.51 L659.0,493.81 L661.0,496.15 L663.0,498.55 L665.0,500.98 L667.0,503.46 L669.0,505.96 L671.0,508.49 L673.0,511.04 L675.0,513.61 L677.0,516.18 L679.0,518.77 L681.0,521.36 L683.0,523.96 L685.0,526.55 L687.0,529.13 L689.0,531.71 L691.0,534.27 L693.0,536.82 L695.0,539.35 L697.0,541.86 L699.0,544.36 L701.0,546.83 L703.0,549.27 L705.0,551.69 L707.0,554.08 L709.0,556.44 L711.0,558.77 L713.0,561.07 L715.0,563.34 L717.0,565.57 L719.0,567.77 L721.0,569.94 L723.0,572.08 L725.0,574.17 L727.0,576.24 L729.0,578.26 L731.0,580.26 L733.0,582.21 L735.0,584.13 L737.0,586.02 L739.0,587.87 L741.0,589.68 L743.0,591.46 L745.0,593.20 L747.0,594.91 L749.0,596.58 L751.0,598.22 L753.0,599.82 L755.0,601.39 L757.0,602.93 L759.0,604.43 L761.0,605.90 L763.0,607.34 L765.0,608.75 L767.0,610.12 L769.0,611.46 L771.0,612.78 L773.0,614.06 L775.0,615.31 L777.0,616.53 L779.0,617.73 L781.0,618.89 L783.0,620.03 L785.0,621.14 L787.0,622.23 L789.0,623.29 L791.0,624.32 L793.0,625.33 L795.0,626.31 L797.0,627.27 L799.0,628.21 L801.0,629.12 L803.0,630.01 L805.0,630.88 L807.0,631.73 L809.0,632.55 L811.0,633.36 L813.0,634.14 L815.0,634.91 L817.0,635.65 L819.0,636.38 L821.0,637.09 L823.0,637.78 L825.0,638.46 L827.0,639.11 L829.0,639.75 L831.0,640.38 L833.0,640.99 L835.0,641.58 L837.0,642.16 L839.0,642.73 L841.0,643.28 L843.0,643.82 L845.0,644.34 L847.0,644.85 L849.0,645.35 L851.0,645.84 L853.0,646.32 L855.0,646.78 L857.0,647.23 L859.0,647.67 L861.0,648.11 L863.0,648.53 L865.0,648.94 L867.0,649.34 L869.0,649.73 L871.0,650.12 L873.0,650.49 L875.0,650.86 L877.0,651.22 L879.0,651.57 L881.0,651.91 L883.0,652.25 L885.0,652.57 L887.0,652.89 L889.0,653.21 L891.0,653.51 L893.0,653.81 L895.0,654.11 L897.0,654.40 L899.0,654.68 L901.0,654.95 L903.0,655.22 L905.0,655.49 L907.0,655.75 L909.0,656.00 L911.0,656.25 L913.0,656.50 L915.0,656.74 L917.0,656.97 L919.0,657.20 L921.0,657.43 L923.0,657.65 L925.0,657.87 L927.0,658.08 L929.0,658.29 L931.0,658.50 L933.0,658.70 L935.0,658.90 L937.0,659.09 L939.0,659.28 L941.0,659.47 L943.0,659.66 L945.0,659.84 L947.0,660.02 L949.0,660.19 L951.0,660.37 L953.0,660.54 L955.0,660.71 L957.0,660.87 L959.0,661.03 L961.0,661.19 L963.0,661.35 L965.0,661.50 L967.0,661.65 L969.0,661.80 L971.0,661.95 L973.0,662.09 L975.0,662.24 L977.0,662.38 L979.0,662.51 L981.0,662.65 L983.0,662.78 L985.0,662.92 L987.0,663.05 L989.0,663.17 L991.0,663.30 L993.0,663.43 L995.0,663.55 L997.0,663.67 L999.0,663.79 L1001.0,663.91 L1003.0,664.02 L1005.0,664.14 L1007.0,664.25 L1009.0,664.36 L1011.0,664.47 L1013.0,664.58 L1015.0,664.68 L1017.0,664.79 L1019.0,664.89 L1021.0,664.99 L1023.0,665.09 L1025.0,665.19 L1027.0,665.29 L1029.0,665.39 L1031.0,665.48 L1033.0,665.58 L1035.0,665.67 L1035.5,665.69" fill="none" stroke="#b27ede" stroke-width="3.0" stroke-linejoin="round" stroke-linecap="butt"/>
<path d="M111.0,658.99 L113.0,658.87 L115.0,658.76 L117.0,658.64 L119.0,658.52 L121.0,658.40 L123.0,658.27 L125.0,658.15 L127.0,658.02 L129.0,657.89 L131.0,657.76 L133.0,657.63 L135.0,657.49 L137.0,657.35 L139.0,657.22 L141.0,657.07 L143.0,656.93 L145.0,656.79 L147.0,656.64 L149.0,656.49 L151.0,656.33 L153.0,656.18 L155.0,656.02 L157.0,655.86 L159.0,655.70 L161.0,655.53 L163.0,655.37 L165.0,655.20 L167.0,655.02 L169.0,654.85 L171.0,654.67 L173.0,654.48 L175.0,654.30 L177.0,654.11 L179.0,653.92 L181.0,653.72 L183.0,653.52 L185.0,653.32 L187.0,653.11 L189.0,652.90 L191.0,652.69 L193.0,652.47 L195.0,652.25 L197.0,652.02 L199.0,651.79 L201.0,651.56 L203.0,651.32 L205.0,651.07 L207.0,650.82 L209.0,650.57 L211.0,650.31 L213.0,650.05 L215.0,649.78 L217.0,649.50 L219.0,649.22 L221.0,648.93 L223.0,648.64 L225.0,648.34 L227.0,648.04 L229.0,647.73 L231.0,647.41 L233.0,647.08 L235.0,646.75 L237.0,646.41 L239.0,646.06 L241.0,645.70 L243.0,645.34 L245.0,644.97 L247.0,644.59 L249.0,644.20 L251.0,643.80 L253.0,643.39 L255.0,642.98 L257.0,642.55 L259.0,642.11 L261.0,641.66 L263.0,641.21 L265.0,640.74 L267.0,640.26 L269.0,639.76 L271.0,639.26 L273.0,638.74 L275.0,638.21 L277.0,637.67 L279.0,637.12 L281.0,636.55 L283.0,635.97 L285.0,635.37 L287.0,634.76 L289.0,634.13 L291.0,633.49 L293.0,632.83 L295.0,632.15 L297.0,631.46 L299.0,630.75 L301.0,630.02 L303.0,629.28 L305.0,628.52 L307.0,627.73 L309.0,626.93 L311.0,626.11 L313.0,625.27 L315.0,624.41 L317.0,623.53 L319.0,622.63 L321.0,621.70 L323.0,620.75 L325.0,619.78 L327.0,618.79 L329.0,617.77 L331.0,616.73 L333.0,615.67 L335.0,614.58 L337.0,613.46 L339.0,612.32 L341.0,611.16 L343.0,609.97 L345.0,608.75 L347.0,607.50 L349.0,606.23 L351.0,604.93 L353.0,603.61 L355.0,602.26 L357.0,600.88 L359.0,599.47 L361.0,598.03 L363.0,596.57 L365.0,595.08 L367.0,593.56 L369.0,592.02 L371.0,590.45 L373.0,588.85 L375.0,587.23 L377.0,585.59 L379.0,583.92 L381.0,582.23 L383.0,580.51 L385.0,578.77 L387.0,577.02 L389.0,575.24 L391.0,573.45 L393.0,571.65 L395.0,569.83 L397.0,568.00 L399.0,566.16 L401.0,564.32 L403.0,562.47 L405.0,560.61 L407.0,558.76 L409.0,556.92 L411.0,555.08 L413.0,553.25 L415.0,551.43 L417.0,549.63 L419.0,547.86 L421.0,546.10 L423.0,544.37 L425.0,542.67 L427.0,541.00 L429.0,539.37 L431.0,537.78 L433.0,536.23 L435.0,534.72 L437.0,533.27 L439.0,531.85 L441.0,530.49 L443.0,529.18 L445.0,527.93 L447.0,526.72 L449.0,525.57 L451.0,524.48 L453.0,523.43 L455.0,522.44 L457.0,521.50 L459.0,520.60 L461.0,519.76 L463.0,518.95 L465.0,518.19 L467.0,517.47 L469.0,516.78 L471.0,516.12 L473.0,515.49 L475.0,514.88 L477.0,514.29 L479.0,513.72 L481.0,513.16 L483.0,512.60 L485.0,512.05 L487.0,511.50 L489.0,510.95 L491.0,510.38 L493.0,509.80 L495.0,509.21 L497.0,508.60 L499.0,507.96 L501.0,507.30 L503.0,506.61 L505.0,505.89 L507.0,505.14 L509.0,504.35 L511.0,503.53 L513.0,502.67 L515.0,501.76 L517.0,500.82 L519.0,499.83 L521.0,498.80 L523.0,497.72 L525.0,496.61 L527.0,495.45 L529.0,494.24 L531.0,492.99 L533.0,491.71 L535.0,490.38 L537.0,489.01 L539.0,487.60 L541.0,486.16 L543.0,484.68 L545.0,483.17 L547.0,481.64 L549.0,480.07 L551.0,478.49 L553.0,476.88 L555.0,475.26 L557.0,473.62 L559.0,471.98 L561.0,470.33 L563.0,468.69 L565.0,467.05 L567.0,465.42 L569.0,463.80 L571.0,462.21 L573.0,460.65 L575.0,459.12 L577.0,457.63 L579.0,456.18 L581.0,454.78 L583.0,453.45 L585.0,452.17 L587.0,450.97 L589.0,449.84 L591.0,448.79 L593.0,447.83 L595.0,446.96 L597.0,446.19 L599.0,445.53 L601.0,444.97 L603.0,444.53 L605.0,444.20 L607.0,443.99 L609.0,443.91 L611.0,443.95 L613.0,444.12 L615.0,444.41 L617.0,444.84 L619.0,445.40 L621.0,446.09 L623.0,446.91 L625.0,447.85 L627.0,448.92 L629.0,450.12 L631.0,451.44 L633.0,452.87 L635.0,454.42 L637.0,456.08 L639.0,457.85 L641.0,459.72 L643.0,461.68 L645.0,463.73 L647.0,465.87 L649.0,468.09 L651.0,470.39 L653.0,472.75 L655.0,475.17 L657.0,477.66 L659.0,480.19 L661.0,482.77 L663.0,485.40 L665.0,488.05 L667.0,490.74 L669.0,493.46 L671.0,496.19 L673.0,498.94 L675.0,501.71 L677.0,504.48 L679.0,507.25 L681.0,510.02 L683.0,512.79 L685.0,515.56 L687.0,518.31 L689.0,521.05 L691.0,523.77 L693.0,526.48 L695.0,529.17 L697.0,531.83 L699.0,534.47 L701.0,537.08 L703.0,539.67 L705.0,542.22 L707.0,544.74 L709.0,547.24 L711.0,549.70 L713.0,552.12 L715.0,554.51 L717.0,556.87 L719.0,559.19 L721.0,561.47 L723.0,563.72 L725.0,565.93 L727.0,568.10 L729.0,570.23 L731.0,572.33 L733.0,574.39 L735.0,576.41 L737.0,578.39 L739.0,580.34 L741.0,582.25 L743.0,584.12 L745.0,585.95 L747.0,587.75 L749.0,589.51 L751.0,591.23 L753.0,592.92 L755.0,594.57 L757.0,596.19 L759.0,597.78 L761.0,599.32 L763.0,600.84 L765.0,602.32 L767.0,603.77 L769.0,605.19 L771.0,606.57 L773.0,607.92 L775.0,609.25 L777.0,610.54 L779.0,611.80 L781.0,613.03 L783.0,614.24 L785.0,615.41 L787.0,616.56 L789.0,617.68 L791.0,618.78 L793.0,619.84 L795.0,620.89 L797.0,621.90 L799.0,622.90 L801.0,623.87 L803.0,624.81 L805.0,625.73 L807.0,626.64 L809.0,627.51 L811.0,628.37 L813.0,629.21 L815.0,630.02 L817.0,630.82 L819.0,631.60 L821.0,632.35 L823.0,633.09 L825.0,633.81 L827.0,634.52 L829.0,635.20 L831.0,635.87 L833.0,636.53 L835.0,637.17 L837.0,637.79 L839.0,638.40 L841.0,638.99 L843.0,639.57 L845.0,640.13 L847.0,640.68 L849.0,641.22 L851.0,641.75 L853.0,642.26 L855.0,642.77 L857.0,643.26 L859.0,643.74 L861.0,644.20 L863.0,644.66 L865.0,645.11 L867.0,645.54 L869.0,645.97 L871.0,646.39 L873.0,646.80 L875.0,647.20 L877.0,647.59 L879.0,647.97 L881.0,648.34 L883.0,648.71 L885.0,649.07 L887.0,649.42 L889.0,649.76 L891.0,650.10 L893.0,650.43 L895.0,650.75 L897.0,651.07 L899.0,651.38 L901.0,651.68 L903.0,651.98 L905.0,652.27 L907.0,652.56 L909.0,652.84 L911.0,653.12 L913.0,653.39 L915.0,653.65 L917.0,653.91 L919.0,654.17 L921.0,654.42 L923.0,654.66 L925.0,654.91 L927.0,655.14 L929.0,655.38 L931.0,655.61 L933.0,655.83 L935.0,656.05 L937.0,656.27 L939.0,656.49 L941.0,656.70 L943.0,656.90 L945.0,657.11 L947.0,657.31 L949.0,657.50 L951.0,657.70 L953.0,657.89 L955.0,658.07 L957.0,658.26 L959.0,658.44 L961.0,658.62 L963.0,658.80 L965.0,658.97 L967.0,659.14 L969.0,659.31 L971.0,659.47 L973.0,659.64 L975.0,659.80 L977.0,659.95 L979.0,660.11 L981.0,660.26 L983.0,660.42 L985.0,660.56 L987.0,660.71 L989.0,660.86 L991.0,661.00 L993.0,661.14 L995.0,661.28 L997.0,661.42 L999.0,661.55 L1001.0,661.68 L1003.0,661.82 L1005.0,661.94 L1007.0,662.07 L1009.0,662.20 L1011.0,662.32 L1013.0,662.45 L1015.0,662.57 L1017.0,662.69 L1019.0,662.80 L1021.0,662.92 L1023.0,663.03 L1025.0,663.15 L1027.0,663.26 L1029.0,663.37 L1031.0,663.48 L1033.0,663.59 L1035.0,663.69 L1035.5,663.72" fill="none" stroke="#ee3c41" stroke-width="3.0" stroke-linejoin="round" stroke-linecap="butt"/>
<polyline points="116.9,1165.0 123.3,1114.7 128.0,1167.3 133.6,1161.8 144.6,1072.6 151.6,1087.0 159.9,1114.7 165.4,1111.9 171.0,1106.4 176.5,1109.1 182.0,1099.4 187.6,1100.8 191.7,1088.4 198.7,1150.2 207.0,1123.0 213.9,1085.6 219.4,1085.6 226.4,1120.2 230.5,1159.0 234.7,1161.8 240.2,1128.5 245.8,1124.4 251.3,1147.9 256.9,1134.1 261.0,1145.2 266.6,1110.5 273.5,1132.7 279.0,1135.5 287.3,1072.6 292.9,1102.2 298.4,1084.8 304.0,1106.4 308.1,1090.3 314.5,1145.2 323.4,1095.3 330.3,1078.7 334.4,1076.5 340.0,1057.1 345.5,1084.2 351.1,1044.9 358.0,1064.8 367.1,1129.9 377.4,1048.2 382.9,1082.8 387.1,1070.4 392.6,1092.5 403.3,1027.3 408.3,1081.3 418.0,1059.1 424.9,955.2 431.9,1007.9 438.8,1014.8 445.7,966.3 451.3,1014.8 456.8,1030.1 463.2,970.5 466.5,978.8 480.4,992.6 488.7,992.6 494.2,984.3 498.4,1006.5 503.9,987.1 509.4,1023.1 519.1,1031.4 523.3,1056.4 530.2,1091.0 535.8,998.2 541.3,1056.4 545.5,1028.7 556.6,1084.1 573.2,1017.6 580.1,1057.8 584.3,1048.1 594.0,1084.1 603.7,1097.9 609.2,1037.0 614.7,1084.1 621.7,1037.0 630.0,1010.7 638.3,1006.5 646.8,965.3 652.4,985.5 656.9,950.7 662.5,988.9 667.0,1005.8 672.6,956.3 678.3,946.1 683.9,967.5 688.4,947.3 694.0,996.8 699.7,924.8 705.3,1019.3 709.8,994.6 715.4,972.0 719.9,983.3 724.4,977.7 731.2,927.0 736.8,931.5 742.4,974.3 748.1,982.2 751.4,1003.6 757.1,974.3 762.7,996.8 768.3,1000.2 773.4,1073.7 778.8,1032.1 785.5,1032.1 793.5,1083.1 800.3,1032.1 805.6,1049.5 809.7,1097.8 815.0,1076.4 825.8,1103.2 831.1,1084.4 837.3,1142.1 843.2,1112.6 852.6,1084.4 858.0,1132.7 863.3,1146.1 870.0,1124.7 874.1,1089.8 879.4,1089.8 890.2,1135.4 895.5,1107.2 906.3,1124.7 910.3,1130.0 921.0,1068.3 926.4,1143.5 931.8,1081.7 937.1,1124.7 945.2,1124.7 953.2,1152.8 958.6,1127.4 964.0,1171.6 969.3,1151.5 973.4,1089.8 980.1,1146.1 985.4,1072.3 990.8,1105.9 996.2,1087.1 1001.5,1105.9 1006.4,1071.0 1013.6,1130.0 1019.0,1132.7 1027.0,1127.4 1033.8,1148.8 1039.1,1146.1 1043.1,1174.3 1048.5,1099.2 1053.9,1130.0 1057.9,1119.3 1064.5,1110.0" fill="none" stroke="#b4b4b4" stroke-width="1.3" stroke-linejoin="round"/>
<path d="M117.0,1149.51 L119.0,1149.44 L121.0,1149.37 L123.0,1149.30 L125.0,1149.23 L127.0,1149.16 L129.0,1149.09 L131.0,1149.03 L133.0,1148.96 L135.0,1148.89 L137.0,1148.82 L139.0,1148.75 L141.0,1148.68 L143.0,1148.61 L145.0,1148.54 L147.0,1148.48 L149.0,1148.41 L151.0,1148.34 L153.0,1148.27 L155.0,1148.20 L157.0,1148.13 L159.0,1148.06 L161.0,1148.00 L163.0,1147.93 L165.0,1147.86 L167.0,1147.79 L169.0,1147.72 L171.0,1147.65 L173.0,1147.58 L175.0,1147.51 L177.0,1147.45 L179.0,1147.38 L181.0,1147.31 L183.0,1147.24 L185.0,1147.17 L187.0,1147.10 L189.0,1147.03 L191.0,1146.97 L193.0,1146.90 L195.0,1146.83 L197.0,1146.76 L199.0,1146.69 L201.0,1146.62 L203.0,1146.55 L205.0,1146.48 L207.0,1146.42 L209.0,1146.35 L211.0,1146.28 L213.0,1146.21 L215.0,1146.14 L217.0,1146.07 L219.0,1146.00 L221.0,1145.94 L223.0,1145.87 L225.0,1145.80 L227.0,1145.73 L229.0,1145.66 L231.0,1145.59 L233.0,1145.52 L235.0,1145.45 L237.0,1145.39 L239.0,1145.32 L241.0,1145.25 L243.0,1145.18 L245.0,1145.11 L247.0,1145.04 L249.0,1144.97 L251.0,1144.91 L253.0,1144.84 L255.0,1144.77 L257.0,1144.70 L259.0,1144.63 L261.0,1144.56 L263.0,1144.49 L265.0,1144.42 L267.0,1144.36 L269.0,1144.29 L271.0,1144.22 L273.0,1144.15 L275.0,1144.08 L277.0,1144.01 L279.0,1143.94 L281.0,1143.87 L283.0,1143.81 L285.0,1143.74 L287.0,1143.67 L289.0,1143.60 L291.0,1143.53 L293.0,1143.46 L295.0,1143.39 L297.0,1143.33 L299.0,1143.26 L301.0,1143.19 L303.0,1143.12 L305.0,1143.05 L307.0,1142.98 L309.0,1142.91 L311.0,1142.84 L313.0,1142.78 L315.0,1142.71 L317.0,1142.64 L319.0,1142.57 L321.0,1142.50 L323.0,1142.43 L325.0,1142.36 L327.0,1142.30 L329.0,1142.23 L331.0,1142.16 L333.0,1142.09 L335.0,1142.02 L337.0,1141.95 L339.0,1141.88 L341.0,1141.81 L343.0,1141.75 L345.0,1141.68 L347.0,1141.61 L349.0,1141.54 L351.0,1141.47 L353.0,1141.40 L355.0,1141.33 L357.0,1141.27 L359.0,1141.20 L361.0,1141.13 L363.0,1141.06 L365.0,1140.99 L367.0,1140.92 L369.0,1140.85 L371.0,1140.78 L373.0,1140.72 L375.0,1140.65 L377.0,1140.58 L379.0,1140.51 L381.0,1140.44 L383.0,1140.37 L385.0,1140.30 L387.0,1140.24 L389.0,1140.17 L391.0,1140.10 L393.0,1140.03 L395.0,1139.96 L397.0,1139.89 L399.0,1139.82 L401.0,1139.75 L403.0,1139.69 L405.0,1139.62 L407.0,1139.55 L409.0,1139.48 L411.0,1139.41 L413.0,1139.34 L415.0,1139.27 L417.0,1139.21 L419.0,1139.14 L421.0,1139.07 L423.0,1139.00 L425.0,1138.93 L427.0,1138.86 L429.0,1138.79 L431.0,1138.72 L433.0,1138.66 L435.0,1138.59 L437.0,1138.52 L439.0,1138.45 L441.0,1138.38 L443.0,1138.31 L445.0,1138.24 L447.0,1138.18 L449.0,1138.11 L451.0,1138.04 L453.0,1137.97 L455.0,1137.90 L457.0,1137.83 L459.0,1137.76 L461.0,1137.69 L463.0,1137.63 L465.0,1137.56 L467.0,1137.49 L469.0,1137.42 L471.0,1137.35 L473.0,1137.28 L475.0,1137.21 L477.0,1137.15 L479.0,1137.08 L481.0,1137.01 L483.0,1136.94 L485.0,1136.87 L487.0,1136.80 L489.0,1136.73 L491.0,1136.66 L493.0,1136.60 L495.0,1136.53 L497.0,1136.46 L499.0,1136.39 L501.0,1136.32 L503.0,1136.25 L505.0,1136.18 L507.0,1136.12 L509.0,1136.05 L511.0,1135.98 L513.0,1135.91 L515.0,1135.84 L517.0,1135.77 L519.0,1135.70 L521.0,1135.63 L523.0,1135.57 L525.0,1135.50 L527.0,1135.43 L529.0,1135.36 L531.0,1135.29 L533.0,1135.22 L535.0,1135.15 L537.0,1135.09 L539.0,1135.02 L541.0,1134.95 L543.0,1134.88 L545.0,1134.81 L547.0,1134.74 L549.0,1134.67 L551.0,1134.60 L553.0,1134.54 L555.0,1134.47 L557.0,1134.40 L559.0,1134.33 L561.0,1134.26 L563.0,1134.19 L565.0,1134.12 L567.0,1134.06 L569.0,1133.99 L571.0,1133.92 L573.0,1133.85 L575.0,1133.78 L577.0,1133.71 L579.0,1133.64 L581.0,1133.57 L583.0,1133.51 L585.0,1133.44 L587.0,1133.37 L589.0,1133.30 L591.0,1133.23 L593.0,1133.16 L595.0,1133.09 L597.0,1133.02 L599.0,1132.96 L601.0,1132.89 L603.0,1132.82 L605.0,1132.75 L607.0,1132.68 L609.0,1132.61 L611.0,1132.54 L613.0,1132.48 L615.0,1132.41 L617.0,1132.34 L619.0,1132.27 L621.0,1132.20 L623.0,1132.13 L625.0,1132.06 L627.0,1131.99 L629.0,1131.93 L631.0,1131.86 L633.0,1131.79 L635.0,1131.72 L637.0,1131.65 L639.0,1131.58 L641.0,1131.51 L643.0,1131.45 L645.0,1131.38 L647.0,1131.31 L649.0,1131.24 L651.0,1131.17 L653.0,1131.10 L655.0,1131.03 L657.0,1130.96 L659.0,1130.90 L661.0,1130.83 L663.0,1130.76 L665.0,1130.69 L667.0,1130.62 L669.0,1130.55 L671.0,1130.48 L673.0,1130.42 L675.0,1130.35 L677.0,1130.28 L679.0,1130.21 L681.0,1130.14 L683.0,1130.07 L685.0,1130.00 L687.0,1129.93 L689.0,1129.87 L691.0,1129.80 L693.0,1129.73 L695.0,1129.66 L697.0,1129.59 L699.0,1129.52 L701.0,1129.45 L703.0,1129.39 L705.0,1129.32 L707.0,1129.25 L709.0,1129.18 L711.0,1129.11 L713.0,1129.04 L715.0,1128.97 L717.0,1128.90 L719.0,1128.84 L721.0,1128.77 L723.0,1128.70 L725.0,1128.63 L727.0,1128.56 L729.0,1128.49 L731.0,1128.42 L733.0,1128.36 L735.0,1128.29 L737.0,1128.22 L739.0,1128.15 L741.0,1128.08 L743.0,1128.01 L745.0,1127.94 L747.0,1127.87 L749.0,1127.81 L751.0,1127.74 L753.0,1127.67 L755.0,1127.60 L757.0,1127.53 L759.0,1127.46 L761.0,1127.39 L763.0,1127.33 L765.0,1127.26 L767.0,1127.19 L769.0,1127.12 L771.0,1127.05 L773.0,1126.98 L775.0,1126.91 L777.0,1126.84 L779.0,1126.78 L781.0,1126.71 L783.0,1126.64 L785.0,1126.57 L787.0,1126.50 L789.0,1126.43 L791.0,1126.36 L793.0,1126.30 L795.0,1126.23 L797.0,1126.16 L799.0,1126.09 L801.0,1126.02 L803.0,1125.95 L805.0,1125.88 L807.0,1125.81 L809.0,1125.75 L811.0,1125.68 L813.0,1125.61 L815.0,1125.54 L817.0,1125.47 L819.0,1125.40 L821.0,1125.33 L823.0,1125.27 L825.0,1125.20 L827.0,1125.13 L829.0,1125.06 L831.0,1124.99 L833.0,1124.92 L835.0,1124.85 L837.0,1124.78 L839.0,1124.72 L841.0,1124.65 L843.0,1124.58 L845.0,1124.51 L847.0,1124.44 L849.0,1124.37 L851.0,1124.30 L853.0,1124.24 L855.0,1124.17 L857.0,1124.10 L859.0,1124.03 L861.0,1123.96 L863.0,1123.89 L865.0,1123.82 L867.0,1123.75 L869.0,1123.69 L871.0,1123.62 L873.0,1123.55 L875.0,1123.48 L877.0,1123.41 L879.0,1123.34 L881.0,1123.27 L883.0,1123.21 L885.0,1123.14 L887.0,1123.07 L889.0,1123.00 L891.0,1122.93 L893.0,1122.86 L895.0,1122.79 L897.0,1122.72 L899.0,1122.66 L901.0,1122.59 L903.0,1122.52 L905.0,1122.45 L907.0,1122.38 L909.0,1122.31 L911.0,1122.24 L913.0,1122.17 L915.0,1122.11 L917.0,1122.04 L919.0,1121.97 L921.0,1121.90 L923.0,1121.83 L925.0,1121.76 L927.0,1121.69 L929.0,1121.63 L931.0,1121.56 L933.0,1121.49 L935.0,1121.42 L937.0,1121.35 L939.0,1121.28 L941.0,1121.21 L943.0,1121.14 L945.0,1121.08 L947.0,1121.01 L949.0,1120.94 L951.0,1120.87 L953.0,1120.80 L955.0,1120.73 L957.0,1120.66 L959.0,1120.60 L961.0,1120.53 L963.0,1120.46 L965.0,1120.39 L967.0,1120.32 L969.0,1120.25 L971.0,1120.18 L973.0,1120.11 L975.0,1120.05 L977.0,1119.98 L979.0,1119.91 L981.0,1119.84 L983.0,1119.77 L985.0,1119.70 L987.0,1119.63 L989.0,1119.57 L991.0,1119.50 L993.0,1119.43 L995.0,1119.36 L997.0,1119.29 L999.0,1119.22 L1001.0,1119.15 L1003.0,1119.08 L1005.0,1119.02 L1007.0,1118.95 L1009.0,1118.88 L1011.0,1118.81 L1013.0,1118.74 L1015.0,1118.67 L1017.0,1118.60 L1019.0,1118.54 L1021.0,1118.47 L1023.0,1118.40 L1025.0,1118.33 L1027.0,1118.26 L1029.0,1118.19 L1031.0,1118.12 L1033.0,1118.05 L1035.0,1117.99 L1037.0,1117.92 L1039.0,1117.85 L1041.0,1117.78 L1043.0,1117.71 L1045.0,1117.64 L1047.0,1117.57 L1049.0,1117.51 L1051.0,1117.44 L1053.0,1117.37 L1055.0,1117.30 L1057.0,1117.23 L1059.0,1117.16 L1061.0,1117.09 L1063.0,1117.02 L1064.5,1116.97" fill="none" stroke="#1e70de" stroke-width="3.0" stroke-linejoin="round" stroke-linecap="butt"/>
<path d="M117.0,1143.75 L119.0,1143.62 L121.0,1143.48 L123.0,1143.35 L125.0,1143.21 L127.0,1143.08 L129.0,1142.94 L131.0,1142.80 L133.0,1142.66 L135.0,1142.52 L137.0,1142.38 L139.0,1142.24 L141.0,1142.09 L143.0,1141.95 L145.0,1141.80 L147.0,1141.65 L149.0,1141.50 L151.0,1141.35 L153.0,1141.19 L155.0,1141.04 L157.0,1140.88 L159.0,1140.73 L161.0,1140.57 L163.0,1140.41 L165.0,1140.24 L167.0,1140.08 L169.0,1139.91 L171.0,1139.74 L173.0,1139.57 L175.0,1139.40 L177.0,1139.23 L179.0,1139.05 L181.0,1138.87 L183.0,1138.69 L185.0,1138.51 L187.0,1138.32 L189.0,1138.14 L191.0,1137.95 L193.0,1137.75 L195.0,1137.56 L197.0,1137.36 L199.0,1137.16 L201.0,1136.96 L203.0,1136.75 L205.0,1136.54 L207.0,1136.33 L209.0,1136.11 L211.0,1135.89 L213.0,1135.67 L215.0,1135.44 L217.0,1135.21 L219.0,1134.98 L221.0,1134.74 L223.0,1134.49 L225.0,1134.25 L227.0,1134.00 L229.0,1133.74 L231.0,1133.48 L233.0,1133.21 L235.0,1132.94 L237.0,1132.66 L239.0,1132.38 L241.0,1132.09 L243.0,1131.80 L245.0,1131.50 L247.0,1131.19 L249.0,1130.88 L251.0,1130.56 L253.0,1130.23 L255.0,1129.89 L257.0,1129.55 L259.0,1129.20 L261.0,1128.84 L263.0,1128.47 L265.0,1128.09 L267.0,1127.70 L269.0,1127.30 L271.0,1126.89 L273.0,1126.48 L275.0,1126.05 L277.0,1125.60 L279.0,1125.15 L281.0,1124.68 L283.0,1124.21 L285.0,1123.71 L287.0,1123.21 L289.0,1122.69 L291.0,1122.15 L293.0,1121.60 L295.0,1121.04 L297.0,1120.46 L299.0,1119.86 L301.0,1119.24 L303.0,1118.61 L305.0,1117.95 L307.0,1117.28 L309.0,1116.59 L311.0,1115.88 L313.0,1115.15 L315.0,1114.39 L317.0,1113.61 L319.0,1112.81 L321.0,1111.99 L323.0,1111.15 L325.0,1110.27 L327.0,1109.38 L329.0,1108.45 L331.0,1107.51 L333.0,1106.53 L335.0,1105.53 L337.0,1104.49 L339.0,1103.43 L341.0,1102.34 L343.0,1101.22 L345.0,1100.07 L347.0,1098.89 L349.0,1097.68 L351.0,1096.43 L353.0,1095.15 L355.0,1093.84 L357.0,1092.50 L359.0,1091.12 L361.0,1089.71 L363.0,1088.26 L365.0,1086.78 L367.0,1085.27 L369.0,1083.72 L371.0,1082.14 L373.0,1080.52 L375.0,1078.87 L377.0,1077.18 L379.0,1075.46 L381.0,1073.71 L383.0,1071.93 L385.0,1070.11 L387.0,1068.26 L389.0,1066.39 L391.0,1064.48 L393.0,1062.55 L395.0,1060.60 L397.0,1058.62 L399.0,1056.62 L401.0,1054.60 L403.0,1052.56 L405.0,1050.51 L407.0,1048.45 L409.0,1046.38 L411.0,1044.31 L413.0,1042.24 L415.0,1040.17 L417.0,1038.12 L419.0,1036.08 L421.0,1034.06 L423.0,1032.06 L425.0,1030.10 L427.0,1028.18 L429.0,1026.30 L431.0,1024.47 L433.0,1022.70 L435.0,1020.99 L437.0,1019.36 L439.0,1017.80 L441.0,1016.33 L443.0,1014.95 L445.0,1013.67 L447.0,1012.50 L449.0,1011.44 L451.0,1010.49 L453.0,1009.67 L455.0,1008.97 L457.0,1008.40 L459.0,1007.96 L461.0,1007.66 L463.0,1007.49 L465.0,1007.47 L467.0,1007.57 L469.0,1007.81 L471.0,1008.19 L473.0,1008.70 L475.0,1009.33 L477.0,1010.09 L479.0,1010.96 L481.0,1011.95 L483.0,1013.05 L485.0,1014.25 L487.0,1015.54 L489.0,1016.93 L491.0,1018.39 L493.0,1019.93 L495.0,1021.54 L497.0,1023.21 L499.0,1024.93 L501.0,1026.70 L503.0,1028.51 L505.0,1030.35 L507.0,1032.22 L509.0,1034.12 L511.0,1036.03 L513.0,1037.95 L515.0,1039.88 L517.0,1041.82 L519.0,1043.75 L521.0,1045.68 L523.0,1047.59 L525.0,1049.50 L527.0,1051.39 L529.0,1053.26 L531.0,1055.11 L533.0,1056.94 L535.0,1058.75 L537.0,1060.53 L539.0,1062.28 L541.0,1064.00 L543.0,1065.69 L545.0,1067.35 L547.0,1068.98 L549.0,1070.58 L551.0,1072.14 L553.0,1073.67 L555.0,1075.16 L557.0,1076.62 L559.0,1078.05 L561.0,1079.44 L563.0,1080.80 L565.0,1082.12 L567.0,1083.41 L569.0,1084.66 L571.0,1085.88 L573.0,1087.07 L575.0,1088.23 L577.0,1089.35 L579.0,1090.44 L581.0,1091.50 L583.0,1092.52 L585.0,1093.52 L587.0,1094.49 L589.0,1095.42 L591.0,1096.33 L593.0,1097.21 L595.0,1098.06 L597.0,1098.88 L599.0,1099.68 L601.0,1100.45 L603.0,1101.19 L605.0,1101.91 L607.0,1102.61 L609.0,1103.28 L611.0,1103.93 L613.0,1104.55 L615.0,1105.16 L617.0,1105.74 L619.0,1106.31 L621.0,1106.85 L623.0,1107.37 L625.0,1107.88 L627.0,1108.36 L629.0,1108.83 L631.0,1109.28 L633.0,1109.72 L635.0,1110.14 L637.0,1110.54 L639.0,1110.93 L641.0,1111.31 L643.0,1111.67 L645.0,1112.01 L647.0,1112.35 L649.0,1112.67 L651.0,1112.98 L653.0,1113.27 L655.0,1113.56 L657.0,1113.84 L659.0,1114.10 L661.0,1114.36 L663.0,1114.60 L665.0,1114.84 L667.0,1115.06 L669.0,1115.28 L671.0,1115.49 L673.0,1115.69 L675.0,1115.89 L677.0,1116.08 L679.0,1116.25 L681.0,1116.43 L683.0,1116.59 L685.0,1116.75 L687.0,1116.91 L689.0,1117.05 L691.0,1117.20 L693.0,1117.33 L695.0,1117.46 L697.0,1117.59 L699.0,1117.71 L701.0,1117.83 L703.0,1117.94 L705.0,1118.05 L707.0,1118.15 L709.0,1118.25 L711.0,1118.34 L713.0,1118.43 L715.0,1118.52 L717.0,1118.60 L719.0,1118.68 L721.0,1118.76 L723.0,1118.84 L725.0,1118.91 L727.0,1118.97 L729.0,1119.04 L731.0,1119.10 L733.0,1119.16 L735.0,1119.22 L737.0,1119.27 L739.0,1119.32 L741.0,1119.37 L743.0,1119.42 L745.0,1119.46 L747.0,1119.50 L749.0,1119.54 L751.0,1119.58 L753.0,1119.62 L755.0,1119.65 L757.0,1119.68 L759.0,1119.71 L761.0,1119.74 L763.0,1119.76 L765.0,1119.79 L767.0,1119.81 L769.0,1119.83 L771.0,1119.85 L773.0,1119.87 L775.0,1119.89 L777.0,1119.90 L779.0,1119.92 L781.0,1119.93 L783.0,1119.94 L785.0,1119.95 L787.0,1119.95 L789.0,1119.96 L791.0,1119.97 L793.0,1119.97 L795.0,1119.97 L797.0,1119.98 L799.0,1119.98 L801.0,1119.97 L803.0,1119.97 L805.0,1119.97 L807.0,1119.97 L809.0,1119.96 L811.0,1119.96 L813.0,1119.95 L815.0,1119.94 L817.0,1119.93 L819.0,1119.92 L821.0,1119.91 L823.0,1119.90 L825.0,1119.89 L827.0,1119.87 L829.0,1119.86 L831.0,1119.84 L833.0,1119.83 L835.0,1119.81 L837.0,1119.79 L839.0,1119.78 L841.0,1119.76 L843.0,1119.74 L845.0,1119.72 L847.0,1119.70 L849.0,1119.67 L851.0,1119.65 L853.0,1119.63 L855.0,1119.60 L857.0,1119.58 L859.0,1119.56 L861.0,1119.53 L863.0,1119.50 L865.0,1119.48 L867.0,1119.45 L869.0,1119.42 L871.0,1119.39 L873.0,1119.36 L875.0,1119.33 L877.0,1119.30 L879.0,1119.27 L881.0,1119.24 L883.0,1119.21 L885.0,1119.18 L887.0,1119.14 L889.0,1119.11 L891.0,1119.08 L893.0,1119.04 L895.0,1119.01 L897.0,1118.97 L899.0,1118.94 L901.0,1118.90 L903.0,1118.86 L905.0,1118.83 L907.0,1118.79 L909.0,1118.75 L911.0,1118.72 L913.0,1118.68 L915.0,1118.64 L917.0,1118.60 L919.0,1118.56 L921.0,1118.52 L923.0,1118.48 L925.0,1118.44 L927.0,1118.40 L929.0,1118.36 L931.0,1118.31 L933.0,1118.27 L935.0,1118.23 L937.0,1118.19 L939.0,1118.14 L941.0,1118.10 L943.0,1118.06 L945.0,1118.01 L947.0,1117.97 L949.0,1117.93 L951.0,1117.88 L953.0,1117.84 L955.0,1117.79 L957.0,1117.75 L959.0,1117.70 L961.0,1117.65 L963.0,1117.61 L965.0,1117.56 L967.0,1117.51 L969.0,1117.47 L971.0,1117.42 L973.0,1117.37 L975.0,1117.32 L977.0,1117.28 L979.0,1117.23 L981.0,1117.18 L983.0,1117.13 L985.0,1117.08 L987.0,1117.03 L989.0,1116.98 L991.0,1116.93 L993.0,1116.88 L995.0,1116.83 L997.0,1116.78 L999.0,1116.73 L1001.0,1116.68 L1003.0,1116.63 L1005.0,1116.58 L1007.0,1116.53 L1009.0,1116.48 L1011.0,1116.43 L1013.0,1116.37 L1015.0,1116.32 L1017.0,1116.27 L1019.0,1116.22 L1021.0,1116.17 L1023.0,1116.11 L1025.0,1116.06 L1027.0,1116.01 L1029.0,1115.95 L1031.0,1115.90 L1033.0,1115.85 L1035.0,1115.79 L1037.0,1115.74 L1039.0,1115.69 L1041.0,1115.63 L1043.0,1115.58 L1045.0,1115.52 L1047.0,1115.47 L1049.0,1115.41 L1051.0,1115.36 L1053.0,1115.30 L1055.0,1115.25 L1057.0,1115.19 L1059.0,1115.14 L1061.0,1115.08 L1063.0,1115.03 L1064.5,1114.99" fill="none" stroke="#37af6e" stroke-width="3.0" stroke-linejoin="round" stroke-linecap="butt"/>
<path d="M117.0,1147.79 L119.0,1147.71 L121.0,1147.63 L123.0,1147.55 L125.0,1147.47 L127.0,1147.39 L129.0,1147.31 L131.0,1147.23 L133.0,1147.15 L135.0,1147.07 L137.0,1146.99 L139.0,1146.91 L141.0,1146.82 L143.0,1146.74 L145.0,1146.66 L147.0,1146.58 L149.0,1146.50 L151.0,1146.41 L153.0,1146.33 L155.0,1146.25 L157.0,1146.17 L159.0,1146.08 L161.0,1146.00 L163.0,1145.92 L165.0,1145.83 L167.0,1145.75 L169.0,1145.67 L171.0,1145.58 L173.0,1145.50 L175.0,1145.41 L177.0,1145.33 L179.0,1145.24 L181.0,1145.16 L183.0,1145.07 L185.0,1144.99 L187.0,1144.90 L189.0,1144.82 L191.0,1144.73 L193.0,1144.65 L195.0,1144.56 L197.0,1144.47 L199.0,1144.39 L201.0,1144.30 L203.0,1144.21 L205.0,1144.13 L207.0,1144.04 L209.0,1143.95 L211.0,1143.86 L213.0,1143.78 L215.0,1143.69 L217.0,1143.60 L219.0,1143.51 L221.0,1143.42 L223.0,1143.33 L225.0,1143.24 L227.0,1143.15 L229.0,1143.06 L231.0,1142.97 L233.0,1142.88 L235.0,1142.79 L237.0,1142.70 L239.0,1142.61 L241.0,1142.52 L243.0,1142.43 L245.0,1142.33 L247.0,1142.24 L249.0,1142.15 L251.0,1142.06 L253.0,1141.96 L255.0,1141.87 L257.0,1141.77 L259.0,1141.68 L261.0,1141.58 L263.0,1141.49 L265.0,1141.39 L267.0,1141.30 L269.0,1141.20 L271.0,1141.11 L273.0,1141.01 L275.0,1140.91 L277.0,1140.81 L279.0,1140.72 L281.0,1140.62 L283.0,1140.52 L285.0,1140.42 L287.0,1140.32 L289.0,1140.22 L291.0,1140.12 L293.0,1140.02 L295.0,1139.91 L297.0,1139.81 L299.0,1139.71 L301.0,1139.61 L303.0,1139.50 L305.0,1139.40 L307.0,1139.30 L309.0,1139.19 L311.0,1139.08 L313.0,1138.98 L315.0,1138.87 L317.0,1138.76 L319.0,1138.66 L321.0,1138.55 L323.0,1138.44 L325.0,1138.33 L327.0,1138.22 L329.0,1138.11 L331.0,1138.00 L333.0,1137.88 L335.0,1137.77 L337.0,1137.66 L339.0,1137.54 L341.0,1137.43 L343.0,1137.31 L345.0,1137.20 L347.0,1137.08 L349.0,1136.96 L351.0,1136.84 L353.0,1136.72 L355.0,1136.60 L357.0,1136.48 L359.0,1136.36 L361.0,1136.23 L363.0,1136.11 L365.0,1135.98 L367.0,1135.86 L369.0,1135.73 L371.0,1135.60 L373.0,1135.47 L375.0,1135.34 L377.0,1135.21 L379.0,1135.08 L381.0,1134.95 L383.0,1134.81 L385.0,1134.68 L387.0,1134.54 L389.0,1134.40 L391.0,1134.26 L393.0,1134.12 L395.0,1133.98 L397.0,1133.84 L399.0,1133.69 L401.0,1133.54 L403.0,1133.40 L405.0,1133.25 L407.0,1133.10 L409.0,1132.94 L411.0,1132.79 L413.0,1132.64 L415.0,1132.48 L417.0,1132.32 L419.0,1132.16 L421.0,1132.00 L423.0,1131.83 L425.0,1131.67 L427.0,1131.50 L429.0,1131.33 L431.0,1131.15 L433.0,1130.98 L435.0,1130.80 L437.0,1130.62 L439.0,1130.44 L441.0,1130.26 L443.0,1130.07 L445.0,1129.88 L447.0,1129.69 L449.0,1129.50 L451.0,1129.30 L453.0,1129.10 L455.0,1128.90 L457.0,1128.69 L459.0,1128.49 L461.0,1128.27 L463.0,1128.06 L465.0,1127.84 L467.0,1127.62 L469.0,1127.39 L471.0,1127.16 L473.0,1126.93 L475.0,1126.69 L477.0,1126.45 L479.0,1126.20 L481.0,1125.95 L483.0,1125.70 L485.0,1125.44 L487.0,1125.18 L489.0,1124.91 L491.0,1124.63 L493.0,1124.35 L495.0,1124.06 L497.0,1123.77 L499.0,1123.47 L501.0,1123.17 L503.0,1122.86 L505.0,1122.54 L507.0,1122.21 L509.0,1121.88 L511.0,1121.53 L513.0,1121.18 L515.0,1120.82 L517.0,1120.46 L519.0,1120.08 L521.0,1119.69 L523.0,1119.29 L525.0,1118.88 L527.0,1118.46 L529.0,1118.03 L531.0,1117.58 L533.0,1117.13 L535.0,1116.65 L537.0,1116.17 L539.0,1115.66 L541.0,1115.15 L543.0,1114.61 L545.0,1114.06 L547.0,1113.49 L549.0,1112.90 L551.0,1112.29 L553.0,1111.65 L555.0,1111.00 L557.0,1110.32 L559.0,1109.62 L561.0,1108.89 L563.0,1108.14 L565.0,1107.35 L567.0,1106.54 L569.0,1105.70 L571.0,1104.82 L573.0,1103.92 L575.0,1102.97 L577.0,1101.99 L579.0,1100.98 L581.0,1099.92 L583.0,1098.82 L585.0,1097.68 L587.0,1096.50 L589.0,1095.27 L591.0,1094.00 L593.0,1092.67 L595.0,1091.29 L597.0,1089.87 L599.0,1088.38 L601.0,1086.85 L603.0,1085.25 L605.0,1083.60 L607.0,1081.88 L609.0,1080.11 L611.0,1078.27 L613.0,1076.36 L615.0,1074.39 L617.0,1072.35 L619.0,1070.24 L621.0,1068.06 L623.0,1065.82 L625.0,1063.50 L627.0,1061.10 L629.0,1058.64 L631.0,1056.10 L633.0,1053.49 L635.0,1050.81 L637.0,1048.05 L639.0,1045.23 L641.0,1042.33 L643.0,1039.37 L645.0,1036.35 L647.0,1033.26 L649.0,1030.11 L651.0,1026.91 L653.0,1023.67 L655.0,1020.38 L657.0,1017.05 L659.0,1013.69 L661.0,1010.32 L663.0,1006.94 L665.0,1003.56 L667.0,1000.19 L669.0,996.85 L671.0,993.55 L673.0,990.30 L675.0,987.13 L677.0,984.05 L679.0,981.08 L681.0,978.23 L683.0,975.53 L685.0,972.99 L687.0,970.64 L689.0,968.49 L691.0,966.55 L693.0,964.85 L695.0,963.41 L697.0,962.22 L699.0,961.31 L701.0,960.67 L703.0,960.33 L705.0,960.27 L707.0,960.51 L709.0,961.03 L711.0,961.83 L713.0,962.90 L715.0,964.24 L717.0,965.82 L719.0,967.64 L721.0,969.67 L723.0,971.90 L725.0,974.32 L727.0,976.90 L729.0,979.62 L731.0,982.47 L733.0,985.42 L735.0,988.46 L737.0,991.57 L739.0,994.74 L741.0,997.95 L743.0,1001.18 L745.0,1004.42 L747.0,1007.67 L749.0,1010.90 L751.0,1014.12 L753.0,1017.30 L755.0,1020.45 L757.0,1023.56 L759.0,1026.62 L761.0,1029.62 L763.0,1032.57 L765.0,1035.45 L767.0,1038.27 L769.0,1041.02 L771.0,1043.70 L773.0,1046.31 L775.0,1048.85 L777.0,1051.31 L779.0,1053.71 L781.0,1056.03 L783.0,1058.28 L785.0,1060.45 L787.0,1062.56 L789.0,1064.59 L791.0,1066.56 L793.0,1068.45 L795.0,1070.28 L797.0,1072.04 L799.0,1073.74 L801.0,1075.37 L803.0,1076.94 L805.0,1078.46 L807.0,1079.91 L809.0,1081.30 L811.0,1082.64 L813.0,1083.93 L815.0,1085.16 L817.0,1086.35 L819.0,1087.48 L821.0,1088.57 L823.0,1089.61 L825.0,1090.61 L827.0,1091.57 L829.0,1092.48 L831.0,1093.36 L833.0,1094.20 L835.0,1095.00 L837.0,1095.77 L839.0,1096.50 L841.0,1097.20 L843.0,1097.87 L845.0,1098.52 L847.0,1099.13 L849.0,1099.72 L851.0,1100.28 L853.0,1100.82 L855.0,1101.34 L857.0,1101.83 L859.0,1102.30 L861.0,1102.75 L863.0,1103.18 L865.0,1103.60 L867.0,1103.99 L869.0,1104.37 L871.0,1104.74 L873.0,1105.09 L875.0,1105.42 L877.0,1105.74 L879.0,1106.05 L881.0,1106.34 L883.0,1106.62 L885.0,1106.89 L887.0,1107.15 L889.0,1107.40 L891.0,1107.64 L893.0,1107.87 L895.0,1108.09 L897.0,1108.31 L899.0,1108.51 L901.0,1108.71 L903.0,1108.89 L905.0,1109.07 L907.0,1109.25 L909.0,1109.42 L911.0,1109.58 L913.0,1109.73 L915.0,1109.88 L917.0,1110.02 L919.0,1110.16 L921.0,1110.29 L923.0,1110.42 L925.0,1110.54 L927.0,1110.66 L929.0,1110.77 L931.0,1110.88 L933.0,1110.98 L935.0,1111.08 L937.0,1111.18 L939.0,1111.27 L941.0,1111.36 L943.0,1111.44 L945.0,1111.52 L947.0,1111.60 L949.0,1111.67 L951.0,1111.74 L953.0,1111.81 L955.0,1111.88 L957.0,1111.94 L959.0,1112.00 L961.0,1112.06 L963.0,1112.11 L965.0,1112.16 L967.0,1112.21 L969.0,1112.26 L971.0,1112.30 L973.0,1112.34 L975.0,1112.38 L977.0,1112.42 L979.0,1112.45 L981.0,1112.48 L983.0,1112.52 L985.0,1112.54 L987.0,1112.57 L989.0,1112.60 L991.0,1112.62 L993.0,1112.64 L995.0,1112.66 L997.0,1112.68 L999.0,1112.69 L1001.0,1112.71 L1003.0,1112.72 L1005.0,1112.73 L1007.0,1112.74 L1009.0,1112.75 L1011.0,1112.76 L1013.0,1112.77 L1015.0,1112.77 L1017.0,1112.77 L1019.0,1112.78 L1021.0,1112.78 L1023.0,1112.78 L1025.0,1112.77 L1027.0,1112.77 L1029.0,1112.77 L1031.0,1112.76 L1033.0,1112.76 L1035.0,1112.75 L1037.0,1112.74 L1039.0,1112.73 L1041.0,1112.72 L1043.0,1112.71 L1045.0,1112.70 L1047.0,1112.68 L1049.0,1112.67 L1051.0,1112.66 L1053.0,1112.64 L1055.0,1112.62 L1057.0,1112.60 L1059.0,1112.59 L1061.0,1112.57 L1063.0,1112.55 L1064.5,1112.53" fill="none" stroke="#b27ede" stroke-width="3.0" stroke-linejoin="round" stroke-linecap="butt"/>
<path d="M117.0,1142.04 L119.0,1141.89 L121.0,1141.75 L123.0,1141.60 L125.0,1141.46 L127.0,1141.31 L129.0,1141.16 L131.0,1141.01 L133.0,1140.86 L135.0,1140.70 L137.0,1140.55 L139.0,1140.39 L141.0,1140.23 L143.0,1140.07 L145.0,1139.91 L147.0,1139.75 L149.0,1139.59 L151.0,1139.42 L153.0,1139.26 L155.0,1139.09 L157.0,1138.92 L159.0,1138.75 L161.0,1138.57 L163.0,1138.40 L165.0,1138.22 L167.0,1138.04 L169.0,1137.86 L171.0,1137.67 L173.0,1137.49 L175.0,1137.30 L177.0,1137.11 L179.0,1136.92 L181.0,1136.72 L183.0,1136.53 L185.0,1136.33 L187.0,1136.13 L189.0,1135.92 L191.0,1135.71 L193.0,1135.50 L195.0,1135.29 L197.0,1135.08 L199.0,1134.86 L201.0,1134.64 L203.0,1134.41 L205.0,1134.18 L207.0,1133.95 L209.0,1133.72 L211.0,1133.48 L213.0,1133.23 L215.0,1132.99 L217.0,1132.74 L219.0,1132.48 L221.0,1132.22 L223.0,1131.96 L225.0,1131.69 L227.0,1131.42 L229.0,1131.14 L231.0,1130.86 L233.0,1130.57 L235.0,1130.28 L237.0,1129.98 L239.0,1129.67 L241.0,1129.36 L243.0,1129.05 L245.0,1128.72 L247.0,1128.39 L249.0,1128.05 L251.0,1127.71 L253.0,1127.35 L255.0,1126.99 L257.0,1126.62 L259.0,1126.25 L261.0,1125.86 L263.0,1125.46 L265.0,1125.06 L267.0,1124.64 L269.0,1124.22 L271.0,1123.78 L273.0,1123.33 L275.0,1122.88 L277.0,1122.40 L279.0,1121.92 L281.0,1121.43 L283.0,1120.92 L285.0,1120.39 L287.0,1119.86 L289.0,1119.31 L291.0,1118.74 L293.0,1118.16 L295.0,1117.56 L297.0,1116.94 L299.0,1116.31 L301.0,1115.66 L303.0,1114.99 L305.0,1114.30 L307.0,1113.59 L309.0,1112.87 L311.0,1112.12 L313.0,1111.35 L315.0,1110.55 L317.0,1109.74 L319.0,1108.90 L321.0,1108.04 L323.0,1107.15 L325.0,1106.24 L327.0,1105.30 L329.0,1104.34 L331.0,1103.34 L333.0,1102.32 L335.0,1101.28 L337.0,1100.20 L339.0,1099.09 L341.0,1097.96 L343.0,1096.79 L345.0,1095.59 L347.0,1094.36 L349.0,1093.10 L351.0,1091.80 L353.0,1090.47 L355.0,1089.11 L357.0,1087.71 L359.0,1086.28 L361.0,1084.81 L363.0,1083.31 L365.0,1081.78 L367.0,1080.20 L369.0,1078.60 L371.0,1076.95 L373.0,1075.28 L375.0,1073.56 L377.0,1071.82 L379.0,1070.03 L381.0,1068.22 L383.0,1066.37 L385.0,1064.48 L387.0,1062.57 L389.0,1060.62 L391.0,1058.65 L393.0,1056.65 L395.0,1054.62 L397.0,1052.56 L399.0,1050.48 L401.0,1048.39 L403.0,1046.27 L405.0,1044.14 L407.0,1042.00 L409.0,1039.85 L411.0,1037.69 L413.0,1035.53 L415.0,1033.38 L417.0,1031.23 L419.0,1029.10 L421.0,1026.99 L423.0,1024.90 L425.0,1022.84 L427.0,1020.81 L429.0,1018.83 L431.0,1016.90 L433.0,1015.02 L435.0,1013.21 L437.0,1011.46 L439.0,1009.79 L441.0,1008.21 L443.0,1006.71 L445.0,1005.31 L447.0,1004.02 L449.0,1002.83 L451.0,1001.76 L453.0,1000.80 L455.0,999.97 L457.0,999.26 L459.0,998.68 L461.0,998.24 L463.0,997.93 L465.0,997.75 L467.0,997.70 L469.0,997.79 L471.0,998.00 L473.0,998.34 L475.0,998.81 L477.0,999.39 L479.0,1000.09 L481.0,1000.90 L483.0,1001.81 L485.0,1002.82 L487.0,1003.92 L489.0,1005.10 L491.0,1006.36 L493.0,1007.68 L495.0,1009.07 L497.0,1010.52 L499.0,1012.01 L501.0,1013.54 L503.0,1015.11 L505.0,1016.70 L507.0,1018.32 L509.0,1019.95 L511.0,1021.59 L513.0,1023.23 L515.0,1024.87 L517.0,1026.50 L519.0,1028.13 L521.0,1029.73 L523.0,1031.32 L525.0,1032.89 L527.0,1034.43 L529.0,1035.93 L531.0,1037.41 L533.0,1038.85 L535.0,1040.25 L537.0,1041.61 L539.0,1042.93 L541.0,1044.20 L543.0,1045.42 L545.0,1046.60 L547.0,1047.73 L549.0,1048.80 L551.0,1049.82 L553.0,1050.78 L555.0,1051.69 L557.0,1052.55 L559.0,1053.34 L561.0,1054.07 L563.0,1054.74 L565.0,1055.35 L567.0,1055.90 L569.0,1056.38 L571.0,1056.79 L573.0,1057.14 L575.0,1057.42 L577.0,1057.63 L579.0,1057.77 L581.0,1057.84 L583.0,1057.84 L585.0,1057.77 L587.0,1057.62 L589.0,1057.39 L591.0,1057.09 L593.0,1056.72 L595.0,1056.26 L597.0,1055.72 L599.0,1055.10 L601.0,1054.41 L603.0,1053.62 L605.0,1052.76 L607.0,1051.81 L609.0,1050.77 L611.0,1049.65 L613.0,1048.44 L615.0,1047.14 L617.0,1045.75 L619.0,1044.28 L621.0,1042.71 L623.0,1041.06 L625.0,1039.31 L627.0,1037.47 L629.0,1035.54 L631.0,1033.53 L633.0,1031.42 L635.0,1029.23 L637.0,1026.94 L639.0,1024.58 L641.0,1022.12 L643.0,1019.59 L645.0,1016.98 L647.0,1014.30 L649.0,1011.54 L651.0,1008.72 L653.0,1005.84 L655.0,1002.90 L657.0,999.92 L659.0,996.90 L661.0,993.85 L663.0,990.78 L665.0,987.70 L667.0,984.63 L669.0,981.58 L671.0,978.56 L673.0,975.58 L675.0,972.67 L677.0,969.85 L679.0,967.12 L681.0,964.52 L683.0,962.05 L685.0,959.74 L687.0,957.61 L689.0,955.67 L691.0,953.95 L693.0,952.46 L695.0,951.21 L697.0,950.22 L699.0,949.49 L701.0,949.05 L703.0,948.88 L705.0,949.00 L707.0,949.41 L709.0,950.10 L711.0,951.06 L713.0,952.29 L715.0,953.78 L717.0,955.52 L719.0,957.49 L721.0,959.67 L723.0,962.04 L725.0,964.60 L727.0,967.31 L729.0,970.17 L731.0,973.14 L733.0,976.22 L735.0,979.39 L737.0,982.62 L739.0,985.91 L741.0,989.24 L743.0,992.58 L745.0,995.94 L747.0,999.30 L749.0,1002.64 L751.0,1005.96 L753.0,1009.25 L755.0,1012.50 L757.0,1015.71 L759.0,1018.87 L761.0,1021.97 L763.0,1025.00 L765.0,1027.98 L767.0,1030.89 L769.0,1033.73 L771.0,1036.50 L773.0,1039.20 L775.0,1041.82 L777.0,1044.37 L779.0,1046.85 L781.0,1049.25 L783.0,1051.58 L785.0,1053.83 L787.0,1056.01 L789.0,1058.12 L791.0,1060.16 L793.0,1062.13 L795.0,1064.03 L797.0,1065.86 L799.0,1067.63 L801.0,1069.33 L803.0,1070.97 L805.0,1072.54 L807.0,1074.06 L809.0,1075.52 L811.0,1076.92 L813.0,1078.27 L815.0,1079.57 L817.0,1080.81 L819.0,1082.00 L821.0,1083.15 L823.0,1084.25 L825.0,1085.30 L827.0,1086.31 L829.0,1087.28 L831.0,1088.21 L833.0,1089.10 L835.0,1089.96 L837.0,1090.78 L839.0,1091.56 L841.0,1092.31 L843.0,1093.03 L845.0,1093.72 L847.0,1094.39 L849.0,1095.02 L851.0,1095.63 L853.0,1096.21 L855.0,1096.77 L857.0,1097.31 L859.0,1097.83 L861.0,1098.32 L863.0,1098.80 L865.0,1099.25 L867.0,1099.69 L869.0,1100.11 L871.0,1100.51 L873.0,1100.90 L875.0,1101.27 L877.0,1101.63 L879.0,1101.98 L881.0,1102.31 L883.0,1102.63 L885.0,1102.93 L887.0,1103.23 L889.0,1103.51 L891.0,1103.79 L893.0,1104.05 L895.0,1104.31 L897.0,1104.55 L899.0,1104.79 L901.0,1105.02 L903.0,1105.24 L905.0,1105.45 L907.0,1105.66 L909.0,1105.86 L911.0,1106.05 L913.0,1106.23 L915.0,1106.41 L917.0,1106.58 L919.0,1106.75 L921.0,1106.91 L923.0,1107.07 L925.0,1107.22 L927.0,1107.36 L929.0,1107.50 L931.0,1107.64 L933.0,1107.77 L935.0,1107.89 L937.0,1108.01 L939.0,1108.13 L941.0,1108.24 L943.0,1108.35 L945.0,1108.46 L947.0,1108.56 L949.0,1108.66 L951.0,1108.76 L953.0,1108.85 L955.0,1108.94 L957.0,1109.02 L959.0,1109.10 L961.0,1109.18 L963.0,1109.26 L965.0,1109.33 L967.0,1109.40 L969.0,1109.47 L971.0,1109.53 L973.0,1109.60 L975.0,1109.66 L977.0,1109.71 L979.0,1109.77 L981.0,1109.82 L983.0,1109.87 L985.0,1109.92 L987.0,1109.97 L989.0,1110.01 L991.0,1110.06 L993.0,1110.10 L995.0,1110.13 L997.0,1110.17 L999.0,1110.20 L1001.0,1110.24 L1003.0,1110.27 L1005.0,1110.30 L1007.0,1110.33 L1009.0,1110.35 L1011.0,1110.38 L1013.0,1110.40 L1015.0,1110.42 L1017.0,1110.44 L1019.0,1110.46 L1021.0,1110.48 L1023.0,1110.49 L1025.0,1110.51 L1027.0,1110.52 L1029.0,1110.53 L1031.0,1110.54 L1033.0,1110.55 L1035.0,1110.56 L1037.0,1110.56 L1039.0,1110.57 L1041.0,1110.57 L1043.0,1110.58 L1045.0,1110.58 L1047.0,1110.58 L1049.0,1110.58 L1051.0,1110.58 L1053.0,1110.58 L1055.0,1110.57 L1057.0,1110.57 L1059.0,1110.56 L1061.0,1110.56 L1063.0,1110.55 L1064.5,1110.54" fill="none" stroke="#ee3c41" stroke-width="3.0" stroke-linejoin="round" stroke-linecap="butt"/>
<path d="M116.2,1497.9 C123.0,1498.1 142.2,1498.9 156.8,1498.9 C171.4,1498.9 190.5,1498.3 203.5,1497.9 C216.5,1497.5 224.3,1497.3 234.7,1496.4 C245.1,1495.5 258.3,1493.3 265.9,1492.3 C273.4,1491.3 275.9,1491.2 280.0,1490.6 C284.1,1490.0 287.2,1489.4 290.4,1488.8 C293.6,1488.2 295.5,1488.5 299.0,1487.1 C302.5,1485.7 307.7,1481.9 311.2,1480.2 C314.7,1478.5 316.6,1477.9 319.8,1476.7 C323.0,1475.5 326.7,1475.1 330.2,1473.2 C333.7,1471.3 336.9,1468.4 340.6,1465.5 C344.4,1462.6 349.2,1458.5 352.7,1455.9 C356.2,1453.3 359.1,1452.1 361.4,1449.9 C363.7,1447.7 364.6,1444.9 366.6,1442.9 C368.6,1440.9 370.6,1440.6 373.5,1437.7 C376.4,1434.8 381.0,1429.3 383.9,1425.6 C386.8,1421.8 389.1,1418.1 390.8,1415.2 C392.5,1412.3 392.6,1411.2 394.3,1408.3 C396.0,1405.4 398.9,1401.4 401.2,1397.9 C403.5,1394.4 406.1,1391.1 408.1,1387.5 C410.1,1383.9 411.6,1379.9 413.3,1376.3 C415.0,1372.7 416.5,1369.2 418.5,1365.9 C420.5,1362.6 423.2,1359.2 425.5,1356.4 C427.8,1353.7 430.4,1351.4 432.4,1349.4 C434.4,1347.4 435.9,1346.2 437.6,1344.2 C439.3,1342.2 440.8,1339.4 442.8,1337.3 C444.8,1335.2 447.2,1333.1 449.7,1331.8 C452.1,1330.5 455.5,1329.6 457.5,1329.5 C459.5,1329.4 460.2,1330.5 461.8,1331.3 C463.4,1332.1 465.4,1333.9 467.0,1334.2 C468.6,1334.5 469.7,1332.2 471.3,1333.0 C472.9,1333.8 474.2,1335.8 476.9,1339.0 C479.6,1342.2 484.7,1348.2 487.3,1352.0 C489.9,1355.8 490.8,1358.4 492.5,1361.6 C494.2,1364.8 495.7,1368.1 497.7,1371.1 C499.7,1374.1 502.6,1377.1 504.6,1379.7 C506.6,1382.3 508.1,1383.4 509.8,1386.7 C511.5,1390.0 513.0,1395.1 515.0,1399.7 C517.0,1404.3 519.9,1410.7 521.9,1414.4 C523.9,1418.2 524.8,1419.0 527.1,1422.2 C529.4,1425.4 533.5,1430.7 535.8,1433.4 C538.1,1436.1 539.3,1436.7 541.0,1438.6 C542.7,1440.5 543.9,1443.0 546.2,1444.7 C548.5,1446.4 552.2,1447.6 554.8,1449.0 C557.4,1450.4 558.6,1452.4 561.8,1453.0 C565.0,1453.6 570.4,1453.0 573.9,1452.5 C577.4,1452.0 579.7,1451.2 582.6,1449.9 C585.5,1448.6 588.3,1446.4 591.2,1444.7 C594.1,1443.0 597.0,1441.8 599.9,1439.5 C602.8,1437.2 605.6,1434.3 608.5,1430.8 C611.4,1427.3 614.9,1422.5 617.2,1418.7 C619.5,1415.0 620.4,1411.5 622.4,1408.3 C624.4,1405.1 627.0,1403.0 629.3,1399.7 C631.6,1396.4 634.2,1392.7 636.2,1388.4 C638.2,1384.1 639.1,1379.8 641.4,1373.7 C643.7,1367.6 647.5,1358.0 650.1,1352.0 C652.7,1346.0 654.9,1342.1 656.9,1337.7 C658.9,1333.3 660.4,1329.6 662.1,1325.6 C663.8,1321.6 665.6,1317.8 667.3,1313.5 C669.0,1309.2 670.8,1303.5 672.5,1299.7 C674.2,1296.0 676.0,1293.9 677.7,1291.0 C679.4,1288.1 681.2,1285.6 682.9,1282.3 C684.6,1279.0 686.4,1274.7 688.1,1271.1 C689.8,1267.5 691.6,1263.3 693.3,1260.7 C695.0,1258.1 696.8,1257.1 698.5,1255.5 C700.2,1253.9 702.0,1252.0 703.7,1251.2 C705.4,1250.4 707.0,1250.4 708.9,1250.8 C710.8,1251.2 713.0,1253.0 714.9,1253.8 C716.8,1254.6 718.2,1253.8 720.1,1255.5 C722.0,1257.2 724.2,1261.3 726.2,1264.2 C728.2,1267.1 730.3,1269.2 732.3,1272.8 C734.3,1276.4 736.1,1281.0 738.3,1285.8 C740.4,1290.6 743.2,1296.5 745.2,1301.4 C747.2,1306.3 748.7,1310.0 750.4,1315.2 C752.1,1320.4 753.6,1326.8 755.6,1332.6 C757.6,1338.4 760.6,1344.4 762.6,1349.9 C764.6,1355.4 766.0,1360.6 767.7,1365.5 C769.4,1370.4 771.2,1373.8 772.9,1379.3 C774.6,1384.8 776.4,1393.2 778.1,1398.4 C779.8,1403.6 781.6,1406.2 783.3,1410.5 C785.0,1414.8 786.8,1420.0 788.5,1424.3 C790.2,1428.6 792.0,1432.8 793.7,1436.5 C795.4,1440.2 796.9,1443.2 798.9,1446.8 C800.9,1450.4 803.2,1454.3 805.8,1458.1 C808.4,1461.9 811.6,1465.9 814.5,1469.4 C817.4,1472.9 820.6,1476.5 823.2,1478.9 C825.8,1481.4 827.8,1482.7 830.1,1484.1 C832.4,1485.5 834.7,1486.2 837.0,1487.5 C839.3,1488.8 841.5,1490.8 843.9,1491.9 C846.3,1493.0 846.5,1492.8 851.3,1494.1 C856.1,1495.4 863.3,1498.7 872.7,1500.0 C882.1,1501.3 895.1,1501.4 907.6,1502.1 C920.1,1502.8 932.2,1503.8 947.9,1504.3 C963.5,1504.8 982.0,1504.8 1001.5,1504.8 C1021.0,1504.8 1054.1,1504.1 1064.6,1504.0" fill="none" stroke="#000" stroke-width="3" stroke-linejoin="round"/>
<line x1="464.1" y1="968" x2="464.1" y2="1060" stroke="#8a8a8a" stroke-width="1.3"/>
<line x1="707.2" y1="919" x2="707.2" y2="1031" stroke="#8a8a8a" stroke-width="1.3"/>
<line x1="457.2" y1="1285.5" x2="457.2" y2="1378" stroke="#8a8a8a" stroke-width="1.3"/>
<line x1="709.6" y1="1219.4" x2="709.6" y2="1330" stroke="#8a8a8a" stroke-width="1.3"/>
<text x="464.7" y="967" font-family='"Liberation Sans", sans-serif' font-size="20" font-weight="normal" text-anchor="start" fill="#262626">184.7</text>
<text x="683.6" y="911.5" font-family='"Liberation Sans", sans-serif' font-size="20" font-weight="normal" text-anchor="start" fill="#262626">182.4</text>
<text x="437.9" y="1276.8" font-family='"Liberation Sans", sans-serif' font-size="20" font-weight="normal" text-anchor="start" fill="#262626">184.8</text>
<text x="678.8" y="1355.5" font-family='"Liberation Sans", sans-serif' font-size="20" font-weight="normal" text-anchor="start" fill="#262626">182.4</text>
<rect x="108" y="52.3" width="944" height="658.2" fill="none" stroke="#000" stroke-width="3"/>
<line x1="108" y1="389.5" x2="1052" y2="389.5" stroke="#000" stroke-width="3"/>
<line x1="181.5" y1="388.0" x2="181.5" y2="377.0" stroke="#000" stroke-width="3"/>
<line x1="326.5" y1="388.0" x2="326.5" y2="377.0" stroke="#000" stroke-width="3"/>
<line x1="471.5" y1="388.0" x2="471.5" y2="377.0" stroke="#000" stroke-width="3"/>
<line x1="616.5" y1="388.0" x2="616.5" y2="377.0" stroke="#000" stroke-width="3"/>
<line x1="761.5" y1="388.0" x2="761.5" y2="377.0" stroke="#000" stroke-width="3"/>
<line x1="906.5" y1="388.0" x2="906.5" y2="377.0" stroke="#000" stroke-width="3"/>
<line x1="254.0" y1="388.0" x2="254.0" y2="383.0" stroke="#000" stroke-width="3"/>
<line x1="399.0" y1="388.0" x2="399.0" y2="383.0" stroke="#000" stroke-width="3"/>
<line x1="544.0" y1="388.0" x2="544.0" y2="383.0" stroke="#000" stroke-width="3"/>
<line x1="689.0" y1="388.0" x2="689.0" y2="383.0" stroke="#000" stroke-width="3"/>
<line x1="834.0" y1="388.0" x2="834.0" y2="383.0" stroke="#000" stroke-width="3"/>
<line x1="979.0" y1="388.0" x2="979.0" y2="383.0" stroke="#000" stroke-width="3"/>
<line x1="181.5" y1="709.0" x2="181.5" y2="698.0" stroke="#000" stroke-width="3"/>
<line x1="326.5" y1="709.0" x2="326.5" y2="698.0" stroke="#000" stroke-width="3"/>
<line x1="471.5" y1="709.0" x2="471.5" y2="698.0" stroke="#000" stroke-width="3"/>
<line x1="616.5" y1="709.0" x2="616.5" y2="698.0" stroke="#000" stroke-width="3"/>
<line x1="761.5" y1="709.0" x2="761.5" y2="698.0" stroke="#000" stroke-width="3"/>
<line x1="906.5" y1="709.0" x2="906.5" y2="698.0" stroke="#000" stroke-width="3"/>
<line x1="254.0" y1="709.0" x2="254.0" y2="704.0" stroke="#000" stroke-width="3"/>
<line x1="399.0" y1="709.0" x2="399.0" y2="704.0" stroke="#000" stroke-width="3"/>
<line x1="544.0" y1="709.0" x2="544.0" y2="704.0" stroke="#000" stroke-width="3"/>
<line x1="689.0" y1="709.0" x2="689.0" y2="704.0" stroke="#000" stroke-width="3"/>
<line x1="834.0" y1="709.0" x2="834.0" y2="704.0" stroke="#000" stroke-width="3"/>
<line x1="979.0" y1="709.0" x2="979.0" y2="704.0" stroke="#000" stroke-width="3"/>
<text x="118.2" y="88" font-family='"Liberation Serif", serif' font-size="32" font-weight="normal" text-anchor="start" >(c)</text>
<text x="119.8" y="346.5" font-family='"Liberation Serif", serif' font-size="31" font-weight="normal" text-anchor="start" >Fe/(SZr)</text>
<text x="118" y="630.5" font-family='"Liberation Serif", serif' font-size="31" font-weight="normal" text-anchor="start" >S(Fe/Zr)</text>
<text x="181.5" y="754.5" font-family='"Liberation Serif", serif' font-size="37" font-weight="bold" text-anchor="middle" >172</text>
<text x="326.5" y="754.5" font-family='"Liberation Serif", serif' font-size="37" font-weight="bold" text-anchor="middle" >171</text>
<text x="471.5" y="754.5" font-family='"Liberation Serif", serif' font-size="37" font-weight="bold" text-anchor="middle" >170</text>
<text x="616.5" y="754.5" font-family='"Liberation Serif", serif' font-size="37" font-weight="bold" text-anchor="middle" >169</text>
<text x="761.5" y="754.5" font-family='"Liberation Serif", serif' font-size="37" font-weight="bold" text-anchor="middle" >168</text>
<text x="906.5" y="754.5" font-family='"Liberation Serif", serif' font-size="37" font-weight="bold" text-anchor="middle" >167</text>
<text x="1051.5" y="754.5" font-family='"Liberation Serif", serif' font-size="37" font-weight="bold" text-anchor="middle" >166</text>
<text x="596" y="798" font-family='"Liberation Serif", serif' font-size="43.3" font-weight="bold" text-anchor="middle" >Binding Energy (eV)</text>
<text x="0" y="0" font-family='"Liberation Serif", serif' font-size="42.7" font-weight="bold" text-anchor="middle" transform="translate(83.5,387.5) rotate(-90)">Intensity (a.u.)</text>
<rect x="115.2" y="867.5" width="950.8" height="663.0" fill="none" stroke="#000" stroke-width="3"/>
<line x1="115.2" y1="1207.5" x2="1066" y2="1207.5" stroke="#000" stroke-width="3"/>
<line x1="326.6" y1="1529.0" x2="326.6" y2="1518.0" stroke="#000" stroke-width="3"/>
<line x1="537.8" y1="1529.0" x2="537.8" y2="1518.0" stroke="#000" stroke-width="3"/>
<line x1="749.0" y1="1529.0" x2="749.0" y2="1518.0" stroke="#000" stroke-width="3"/>
<line x1="960.2" y1="1529.0" x2="960.2" y2="1518.0" stroke="#000" stroke-width="3"/>
<line x1="221.0" y1="1529.0" x2="221.0" y2="1524.0" stroke="#000" stroke-width="3"/>
<line x1="432.2" y1="1529.0" x2="432.2" y2="1524.0" stroke="#000" stroke-width="3"/>
<line x1="643.4" y1="1529.0" x2="643.4" y2="1524.0" stroke="#000" stroke-width="3"/>
<line x1="854.6" y1="1529.0" x2="854.6" y2="1524.0" stroke="#000" stroke-width="3"/>
<text x="124.5" y="907.5" font-family='"Liberation Serif", serif' font-size="32" font-weight="normal" text-anchor="start" >(d)</text>
<text x="125.5" y="1195.5" font-family='"Liberation Serif", serif' font-size="31" font-weight="normal" text-anchor="start" >Fe/(SZr)</text>
<text x="124" y="1482" font-family='"Liberation Serif", serif' font-size="31" font-weight="normal" text-anchor="start" >S(Fe/Zr)</text>
<text x="115.4" y="1575" font-family='"Liberation Serif", serif' font-size="37.5" font-weight="bold" text-anchor="middle" >188</text>
<text x="326.6" y="1575" font-family='"Liberation Serif", serif' font-size="37.5" font-weight="bold" text-anchor="middle" >186</text>
<text x="537.8" y="1575" font-family='"Liberation Serif", serif' font-size="37.5" font-weight="bold" text-anchor="middle" >184</text>
<text x="749.0" y="1575" font-family='"Liberation Serif", serif' font-size="37.5" font-weight="bold" text-anchor="middle" >182</text>
<text x="960.2" y="1575" font-family='"Liberation Serif", serif' font-size="37.5" font-weight="bold" text-anchor="middle" >180</text>
<text x="604.5" y="1620.5" font-family='"Liberation Serif", serif' font-size="43.5" font-weight="bold" text-anchor="middle" >Binding Energy (eV)</text>
<text x="0" y="0" font-family='"Liberation Serif", serif' font-size="42.7" font-weight="bold" text-anchor="middle" transform="translate(88.5,1236) rotate(-90)">Intensity (a.u.)</text>
</g>
</svg>
</body></html>
